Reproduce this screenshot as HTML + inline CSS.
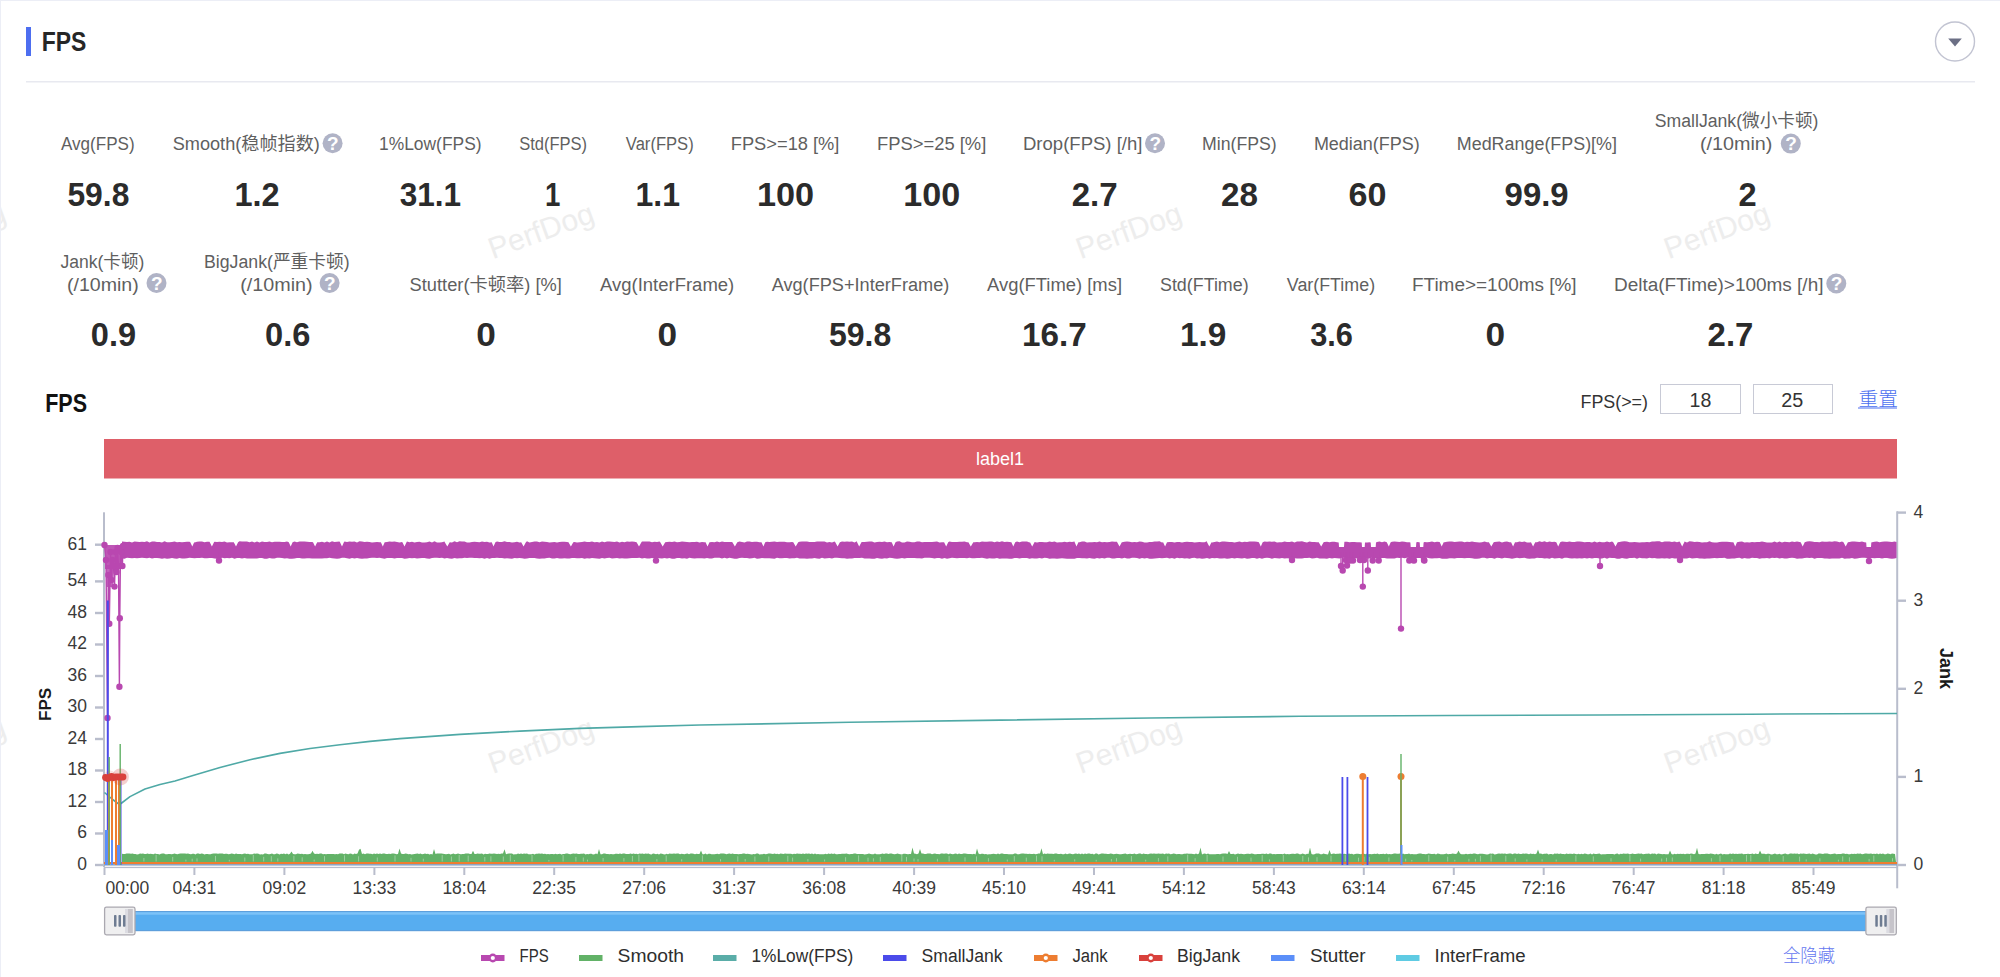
<!DOCTYPE html>
<html><head><meta charset="utf-8"><title>FPS</title>
<style>html,body{margin:0;padding:0;background:#fff;overflow:hidden;width:2000px;height:977px}svg{display:block}</style>
</head><body>
<svg width="2000" height="977" viewBox="0 0 2000 977" font-family="'Liberation Sans','Noto Sans CJK SC',sans-serif">
<rect x="0" y="0" width="2000" height="977" fill="#fff"/>
<text x="-46.6" y="240.9" font-size="30" fill="#ededed" text-anchor="middle" transform="rotate(-20 -46.6 231.9)">PerfDog</text>
<text x="541.3" y="240.9" font-size="30" fill="#ededed" text-anchor="middle" transform="rotate(-20 541.3 231.9)">PerfDog</text>
<text x="1129.2" y="240.9" font-size="30" fill="#ededed" text-anchor="middle" transform="rotate(-20 1129.2 231.9)">PerfDog</text>
<text x="1717.1" y="240.9" font-size="30" fill="#ededed" text-anchor="middle" transform="rotate(-20 1717.1 231.9)">PerfDog</text>
<text x="-46.6" y="755.7" font-size="30" fill="#ededed" text-anchor="middle" transform="rotate(-20 -46.6 746.7)">PerfDog</text>
<text x="541.3" y="755.7" font-size="30" fill="#ededed" text-anchor="middle" transform="rotate(-20 541.3 746.7)">PerfDog</text>
<text x="1129.2" y="755.7" font-size="30" fill="#ededed" text-anchor="middle" transform="rotate(-20 1129.2 746.7)">PerfDog</text>
<text x="1717.1" y="755.7" font-size="30" fill="#ededed" text-anchor="middle" transform="rotate(-20 1717.1 746.7)">PerfDog</text>
<rect x="0" y="0" width="2000" height="1" fill="#eceef6"/>
<rect x="0" y="0" width="1" height="977" fill="#eceef6"/>
<rect x="26" y="27" width="5" height="29" fill="#4d6ef0"/>
<text x="41.64" y="51.3" font-size="26.8" fill="#262626" font-weight="bold" textLength="44.60" lengthAdjust="spacingAndGlyphs" >FPS</text>
<rect x="26" y="81" width="1949" height="1.5" fill="#e8e9f0"/>
<circle cx="1955" cy="41.5" r="19.5" fill="#fff" stroke="#c2c4d2" stroke-width="1.4"/>
<path d="M1948.2 38.6 L1961.8 38.6 L1955 46.4 Z" fill="#6b6f85"/>
<text x="61.00" y="150" font-size="18" fill="#5f5f5f" font-weight="normal" textLength="73.64" lengthAdjust="spacingAndGlyphs" >Avg(FPS)</text>
<text x="172.70" y="150" font-size="18" fill="#5f5f5f" font-weight="normal" textLength="147.20" lengthAdjust="spacingAndGlyphs" >Smooth(稳帧指数)</text>
<text x="379.03" y="150" font-size="18" fill="#5f5f5f" font-weight="normal" textLength="102.53" lengthAdjust="spacingAndGlyphs" >1%Low(FPS)</text>
<text x="519.20" y="150" font-size="18" fill="#5f5f5f" font-weight="normal" textLength="67.91" lengthAdjust="spacingAndGlyphs" >Std(FPS)</text>
<text x="625.80" y="150" font-size="18" fill="#5f5f5f" font-weight="normal" textLength="67.92" lengthAdjust="spacingAndGlyphs" >Var(FPS)</text>
<text x="730.79" y="150" font-size="18" fill="#5f5f5f" font-weight="normal" textLength="108.63" lengthAdjust="spacingAndGlyphs" >FPS&gt;=18 [%]</text>
<text x="876.98" y="150" font-size="18" fill="#5f5f5f" font-weight="normal" textLength="109.34" lengthAdjust="spacingAndGlyphs" >FPS&gt;=25 [%]</text>
<text x="1022.97" y="150" font-size="18" fill="#5f5f5f" font-weight="normal" textLength="119.46" lengthAdjust="spacingAndGlyphs" >Drop(FPS) [/h]</text>
<text x="1202.02" y="150" font-size="18" fill="#5f5f5f" font-weight="normal" textLength="74.66" lengthAdjust="spacingAndGlyphs" >Min(FPS)</text>
<text x="1313.90" y="150" font-size="18" fill="#5f5f5f" font-weight="normal" textLength="105.89" lengthAdjust="spacingAndGlyphs" >Median(FPS)</text>
<text x="1456.81" y="150" font-size="18" fill="#5f5f5f" font-weight="normal" textLength="160.19" lengthAdjust="spacingAndGlyphs" >MedRange(FPS)[%]</text>
<text x="1654.80" y="127" font-size="18" fill="#5f5f5f" font-weight="normal" textLength="163.67" lengthAdjust="spacingAndGlyphs" >SmallJank(微小卡顿)</text>
<text x="1699.90" y="150" font-size="18" fill="#5f5f5f" font-weight="normal" textLength="72.49" lengthAdjust="spacingAndGlyphs" >(/10min)</text>
<text x="60.50" y="267.5" font-size="18" fill="#5f5f5f" font-weight="normal" textLength="83.77" lengthAdjust="spacingAndGlyphs" >Jank(卡顿)</text>
<text x="66.91" y="290.5" font-size="18" fill="#5f5f5f" font-weight="normal" textLength="71.87" lengthAdjust="spacingAndGlyphs" >(/10min)</text>
<text x="204.02" y="267.5" font-size="18" fill="#5f5f5f" font-weight="normal" textLength="145.56" lengthAdjust="spacingAndGlyphs" >BigJank(严重卡顿)</text>
<text x="240.20" y="290.5" font-size="18" fill="#5f5f5f" font-weight="normal" textLength="72.49" lengthAdjust="spacingAndGlyphs" >(/10min)</text>
<text x="409.60" y="290.5" font-size="18" fill="#5f5f5f" font-weight="normal" textLength="152.22" lengthAdjust="spacingAndGlyphs" >Stutter(卡顿率) [%]</text>
<text x="600.00" y="290.5" font-size="18" fill="#5f5f5f" font-weight="normal" textLength="134.22" lengthAdjust="spacingAndGlyphs" >Avg(InterFrame)</text>
<text x="771.70" y="290.5" font-size="18" fill="#5f5f5f" font-weight="normal" textLength="177.60" lengthAdjust="spacingAndGlyphs" >Avg(FPS+InterFrame)</text>
<text x="987.00" y="290.5" font-size="18" fill="#5f5f5f" font-weight="normal" textLength="135.02" lengthAdjust="spacingAndGlyphs" >Avg(FTime) [ms]</text>
<text x="1160.00" y="290.5" font-size="18" fill="#5f5f5f" font-weight="normal" textLength="88.59" lengthAdjust="spacingAndGlyphs" >Std(FTime)</text>
<text x="1286.80" y="290.5" font-size="18" fill="#5f5f5f" font-weight="normal" textLength="88.29" lengthAdjust="spacingAndGlyphs" >Var(FTime)</text>
<text x="1411.95" y="290.5" font-size="18" fill="#5f5f5f" font-weight="normal" textLength="164.71" lengthAdjust="spacingAndGlyphs" >FTime&gt;=100ms [%]</text>
<text x="1613.95" y="290.5" font-size="18" fill="#5f5f5f" font-weight="normal" textLength="209.51" lengthAdjust="spacingAndGlyphs" >Delta(FTime)&gt;100ms [/h]</text>
<text x="67.44" y="206.3" font-size="33" fill="#2b2b2b" font-weight="bold" textLength="61.90" lengthAdjust="spacingAndGlyphs" >59.8</text>
<text x="234.43" y="206.3" font-size="33" fill="#2b2b2b" font-weight="bold" textLength="45.22" lengthAdjust="spacingAndGlyphs" >1.2</text>
<text x="399.70" y="206.3" font-size="33" fill="#2b2b2b" font-weight="bold" textLength="61.44" lengthAdjust="spacingAndGlyphs" >31.1</text>
<text x="544.93" y="206.3" font-size="33" fill="#2b2b2b" font-weight="bold" textLength="15.37" lengthAdjust="spacingAndGlyphs" >1</text>
<text x="635.46" y="206.3" font-size="33" fill="#2b2b2b" font-weight="bold" textLength="44.48" lengthAdjust="spacingAndGlyphs" >1.1</text>
<text x="756.92" y="206.3" font-size="33" fill="#2b2b2b" font-weight="bold" textLength="57.18" lengthAdjust="spacingAndGlyphs" >100</text>
<text x="903.33" y="206.3" font-size="33" fill="#2b2b2b" font-weight="bold" textLength="56.97" lengthAdjust="spacingAndGlyphs" >100</text>
<text x="1071.70" y="206.3" font-size="33" fill="#2b2b2b" font-weight="bold" textLength="45.96" lengthAdjust="spacingAndGlyphs" >2.7</text>
<text x="1220.99" y="206.3" font-size="33" fill="#2b2b2b" font-weight="bold" textLength="36.96" lengthAdjust="spacingAndGlyphs" >28</text>
<text x="1348.47" y="206.3" font-size="33" fill="#2b2b2b" font-weight="bold" textLength="37.93" lengthAdjust="spacingAndGlyphs" >60</text>
<text x="1504.60" y="206.3" font-size="33" fill="#2b2b2b" font-weight="bold" textLength="64.05" lengthAdjust="spacingAndGlyphs" >99.9</text>
<text x="1738.61" y="206.3" font-size="33" fill="#2b2b2b" font-weight="bold" textLength="18.14" lengthAdjust="spacingAndGlyphs" >2</text>
<text x="90.81" y="346" font-size="33" fill="#2b2b2b" font-weight="bold" textLength="45.23" lengthAdjust="spacingAndGlyphs" >0.9</text>
<text x="265.01" y="346" font-size="33" fill="#2b2b2b" font-weight="bold" textLength="45.34" lengthAdjust="spacingAndGlyphs" >0.6</text>
<text x="476.23" y="346" font-size="33" fill="#2b2b2b" font-weight="bold" textLength="19.61" lengthAdjust="spacingAndGlyphs" >0</text>
<text x="657.53" y="346" font-size="33" fill="#2b2b2b" font-weight="bold" textLength="19.61" lengthAdjust="spacingAndGlyphs" >0</text>
<text x="829.03" y="346" font-size="33" fill="#2b2b2b" font-weight="bold" textLength="62.31" lengthAdjust="spacingAndGlyphs" >59.8</text>
<text x="1021.99" y="346" font-size="33" fill="#2b2b2b" font-weight="bold" textLength="64.68" lengthAdjust="spacingAndGlyphs" >16.7</text>
<text x="1179.98" y="346" font-size="33" fill="#2b2b2b" font-weight="bold" textLength="46.38" lengthAdjust="spacingAndGlyphs" >1.9</text>
<text x="1310.20" y="346" font-size="33" fill="#2b2b2b" font-weight="bold" textLength="42.73" lengthAdjust="spacingAndGlyphs" >3.6</text>
<text x="1485.43" y="346" font-size="33" fill="#2b2b2b" font-weight="bold" textLength="19.61" lengthAdjust="spacingAndGlyphs" >0</text>
<text x="1707.60" y="346" font-size="33" fill="#2b2b2b" font-weight="bold" textLength="45.75" lengthAdjust="spacingAndGlyphs" >2.7</text>
<circle cx="332.6" cy="143.3" r="10" fill="#b0b3c6"/>
<text x="332.8" y="149.9" font-size="19" fill="#fff" text-anchor="middle" font-weight="bold">?</text>
<circle cx="1155" cy="143.3" r="10" fill="#b0b3c6"/>
<text x="1155.2" y="149.9" font-size="19" fill="#fff" text-anchor="middle" font-weight="bold">?</text>
<circle cx="1790.8" cy="143.6" r="10" fill="#b0b3c6"/>
<text x="1791.0" y="150.2" font-size="19" fill="#fff" text-anchor="middle" font-weight="bold">?</text>
<circle cx="156.5" cy="283" r="10" fill="#b0b3c6"/>
<text x="156.7" y="289.6" font-size="19" fill="#fff" text-anchor="middle" font-weight="bold">?</text>
<circle cx="329.6" cy="283" r="10" fill="#b0b3c6"/>
<text x="329.8" y="289.6" font-size="19" fill="#fff" text-anchor="middle" font-weight="bold">?</text>
<circle cx="1836.3" cy="283.5" r="10" fill="#b0b3c6"/>
<text x="1836.5" y="290.1" font-size="19" fill="#fff" text-anchor="middle" font-weight="bold">?</text>
<text x="45.16" y="412" font-size="25.5" fill="#111" font-weight="bold" textLength="41.85" lengthAdjust="spacingAndGlyphs" >FPS</text>
<text x="1580.51" y="407.5" font-size="18" fill="#333" font-weight="normal" textLength="67.48" lengthAdjust="spacingAndGlyphs" >FPS(&gt;=)</text>
<rect x="1660.5" y="384.5" width="80" height="29" fill="#fff" stroke="#c8cad6" stroke-width="1"/>
<rect x="1753.5" y="384.5" width="79" height="29" fill="#fff" stroke="#c8cad6" stroke-width="1"/>
<text x="1689.52" y="407" font-size="20" fill="#333" font-weight="normal" textLength="21.80" lengthAdjust="spacingAndGlyphs" >18</text>
<text x="1781.31" y="407" font-size="20" fill="#333" font-weight="normal" textLength="22.01" lengthAdjust="spacingAndGlyphs" >25</text>
<text x="1858.50" y="405.5" font-size="19" fill="#4b6ff0" font-weight="300" textLength="39.54" lengthAdjust="spacingAndGlyphs" >重置</text>
<rect x="1858" y="407.5" width="39" height="1" fill="#4b6ff0"/>
<rect x="104" y="439" width="1793" height="39.5" fill="#de5f69"/>
<text x="1000" y="465" font-size="18" fill="#fff" text-anchor="middle" font-weight="normal" >label1</text>
<rect x="103" y="512.3" width="2" height="355" fill="#b9bdcc"/>
<rect x="95" y="863.8" width="9" height="2.4" fill="#b9bdcc"/>
<text x="87" y="869.9" font-size="17.5" fill="#3a3a3a" text-anchor="end" font-weight="normal" >0</text>
<rect x="95" y="832.3" width="9" height="2.4" fill="#b9bdcc"/>
<text x="87" y="838.4" font-size="17.5" fill="#3a3a3a" text-anchor="end" font-weight="normal" >6</text>
<rect x="95" y="800.8" width="9" height="2.4" fill="#b9bdcc"/>
<text x="87" y="806.9" font-size="17.5" fill="#3a3a3a" text-anchor="end" font-weight="normal" >12</text>
<rect x="95" y="769.3" width="9" height="2.4" fill="#b9bdcc"/>
<text x="87" y="775.4" font-size="17.5" fill="#3a3a3a" text-anchor="end" font-weight="normal" >18</text>
<rect x="95" y="737.8" width="9" height="2.4" fill="#b9bdcc"/>
<text x="87" y="743.9" font-size="17.5" fill="#3a3a3a" text-anchor="end" font-weight="normal" >24</text>
<rect x="95" y="706.3" width="9" height="2.4" fill="#b9bdcc"/>
<text x="87" y="712.4" font-size="17.5" fill="#3a3a3a" text-anchor="end" font-weight="normal" >30</text>
<rect x="95" y="674.8" width="9" height="2.4" fill="#b9bdcc"/>
<text x="87" y="680.9" font-size="17.5" fill="#3a3a3a" text-anchor="end" font-weight="normal" >36</text>
<rect x="95" y="643.3" width="9" height="2.4" fill="#b9bdcc"/>
<text x="87" y="649.4" font-size="17.5" fill="#3a3a3a" text-anchor="end" font-weight="normal" >42</text>
<rect x="95" y="611.8" width="9" height="2.4" fill="#b9bdcc"/>
<text x="87" y="617.9" font-size="17.5" fill="#3a3a3a" text-anchor="end" font-weight="normal" >48</text>
<rect x="95" y="580.2" width="9" height="2.4" fill="#b9bdcc"/>
<text x="87" y="586.3" font-size="17.5" fill="#3a3a3a" text-anchor="end" font-weight="normal" >54</text>
<rect x="95" y="543.5" width="9" height="2.4" fill="#b9bdcc"/>
<text x="87" y="549.6" font-size="17.5" fill="#3a3a3a" text-anchor="end" font-weight="normal" >61</text>
<rect x="1896.2" y="511.3" width="2" height="377" fill="#b9bdcc"/>
<rect x="1897" y="863.8" width="9" height="2.4" fill="#b9bdcc"/>
<text x="1913.5" y="869.9" font-size="17.5" fill="#3a3a3a" text-anchor="start" font-weight="normal" >0</text>
<rect x="1897" y="775.7" width="9" height="2.4" fill="#b9bdcc"/>
<text x="1913.5" y="781.8" font-size="17.5" fill="#3a3a3a" text-anchor="start" font-weight="normal" >1</text>
<rect x="1897" y="687.6" width="9" height="2.4" fill="#b9bdcc"/>
<text x="1913.5" y="693.7" font-size="17.5" fill="#3a3a3a" text-anchor="start" font-weight="normal" >2</text>
<rect x="1897" y="599.5" width="9" height="2.4" fill="#b9bdcc"/>
<text x="1913.5" y="605.6" font-size="17.5" fill="#3a3a3a" text-anchor="start" font-weight="normal" >3</text>
<rect x="1897" y="511.4" width="9" height="2.4" fill="#b9bdcc"/>
<text x="1913.5" y="517.5" font-size="17.5" fill="#3a3a3a" text-anchor="start" font-weight="normal" >4</text>
<text x="0" y="0" font-size="17.2" font-weight="bold" fill="#1a1a1a" text-anchor="middle" transform="translate(51.3 704.4) rotate(-90)">FPS</text>
<text x="0" y="0" font-size="18" font-weight="bold" fill="#1a1a1a" text-anchor="middle" transform="translate(1940 668.6) rotate(90)">Jank</text>
<rect x="104" y="866.8" width="1793" height="1.3" fill="#b9bdcc"/>
<rect x="103.5" y="868" width="2" height="7" fill="#b9bdcc"/>
<text x="105.5" y="894" font-size="17.5" fill="#3a3a3a" text-anchor="start" font-weight="normal" >00:00</text>
<rect x="193.4" y="868" width="2" height="7" fill="#b9bdcc"/>
<text x="194.4" y="894" font-size="17.5" fill="#3a3a3a" text-anchor="middle" font-weight="normal" >04:31</text>
<rect x="283.4" y="868" width="2" height="7" fill="#b9bdcc"/>
<text x="284.4" y="894" font-size="17.5" fill="#3a3a3a" text-anchor="middle" font-weight="normal" >09:02</text>
<rect x="373.4" y="868" width="2" height="7" fill="#b9bdcc"/>
<text x="374.4" y="894" font-size="17.5" fill="#3a3a3a" text-anchor="middle" font-weight="normal" >13:33</text>
<rect x="463.3" y="868" width="2" height="7" fill="#b9bdcc"/>
<text x="464.3" y="894" font-size="17.5" fill="#3a3a3a" text-anchor="middle" font-weight="normal" >18:04</text>
<rect x="553.2" y="868" width="2" height="7" fill="#b9bdcc"/>
<text x="554.2" y="894" font-size="17.5" fill="#3a3a3a" text-anchor="middle" font-weight="normal" >22:35</text>
<rect x="643.2" y="868" width="2" height="7" fill="#b9bdcc"/>
<text x="644.2" y="894" font-size="17.5" fill="#3a3a3a" text-anchor="middle" font-weight="normal" >27:06</text>
<rect x="733.1" y="868" width="2" height="7" fill="#b9bdcc"/>
<text x="734.1" y="894" font-size="17.5" fill="#3a3a3a" text-anchor="middle" font-weight="normal" >31:37</text>
<rect x="823.1" y="868" width="2" height="7" fill="#b9bdcc"/>
<text x="824.1" y="894" font-size="17.5" fill="#3a3a3a" text-anchor="middle" font-weight="normal" >36:08</text>
<rect x="913.1" y="868" width="2" height="7" fill="#b9bdcc"/>
<text x="914.1" y="894" font-size="17.5" fill="#3a3a3a" text-anchor="middle" font-weight="normal" >40:39</text>
<rect x="1003.0" y="868" width="2" height="7" fill="#b9bdcc"/>
<text x="1004.0" y="894" font-size="17.5" fill="#3a3a3a" text-anchor="middle" font-weight="normal" >45:10</text>
<rect x="1093.0" y="868" width="2" height="7" fill="#b9bdcc"/>
<text x="1094.0" y="894" font-size="17.5" fill="#3a3a3a" text-anchor="middle" font-weight="normal" >49:41</text>
<rect x="1182.9" y="868" width="2" height="7" fill="#b9bdcc"/>
<text x="1183.9" y="894" font-size="17.5" fill="#3a3a3a" text-anchor="middle" font-weight="normal" >54:12</text>
<rect x="1272.9" y="868" width="2" height="7" fill="#b9bdcc"/>
<text x="1273.9" y="894" font-size="17.5" fill="#3a3a3a" text-anchor="middle" font-weight="normal" >58:43</text>
<rect x="1362.8" y="868" width="2" height="7" fill="#b9bdcc"/>
<text x="1363.8" y="894" font-size="17.5" fill="#3a3a3a" text-anchor="middle" font-weight="normal" >63:14</text>
<rect x="1452.8" y="868" width="2" height="7" fill="#b9bdcc"/>
<text x="1453.8" y="894" font-size="17.5" fill="#3a3a3a" text-anchor="middle" font-weight="normal" >67:45</text>
<rect x="1542.7" y="868" width="2" height="7" fill="#b9bdcc"/>
<text x="1543.7" y="894" font-size="17.5" fill="#3a3a3a" text-anchor="middle" font-weight="normal" >72:16</text>
<rect x="1632.7" y="868" width="2" height="7" fill="#b9bdcc"/>
<text x="1633.7" y="894" font-size="17.5" fill="#3a3a3a" text-anchor="middle" font-weight="normal" >76:47</text>
<rect x="1722.6" y="868" width="2" height="7" fill="#b9bdcc"/>
<text x="1723.6" y="894" font-size="17.5" fill="#3a3a3a" text-anchor="middle" font-weight="normal" >81:18</text>
<rect x="1812.5" y="868" width="2" height="7" fill="#b9bdcc"/>
<text x="1813.5" y="894" font-size="17.5" fill="#3a3a3a" text-anchor="middle" font-weight="normal" >85:49</text>
<path d="M122 862 L122.0 853.7 L123.5 854.1 L125.0 853.9 L126.5 853.5 L128.0 853.4 L129.5 853.5 L131.0 853.8 L132.5 853.5 L134.0 854.0 L135.5 854.0 L137.0 854.4 L138.5 854.3 L140.0 853.5 L141.5 853.7 L143.0 853.6 L144.5 854.0 L146.0 853.9 L147.5 853.5 L149.0 854.1 L150.5 853.7 L152.0 853.9 L153.5 854.2 L155.0 853.6 L156.5 853.9 L158.0 854.1 L159.5 854.4 L161.0 853.8 L162.5 853.6 L164.0 853.4 L165.5 854.2 L167.0 854.3 L168.5 854.1 L170.0 854.0 L171.5 854.2 L173.0 853.9 L174.5 853.5 L176.0 854.0 L177.5 854.2 L179.0 853.8 L180.5 853.4 L182.0 853.6 L183.5 853.5 L185.0 853.5 L186.5 853.8 L188.0 853.5 L189.5 853.9 L191.0 854.2 L192.5 853.7 L194.0 853.8 L195.5 854.4 L197.0 853.6 L198.5 853.6 L200.0 854.0 L201.5 853.4 L203.0 853.8 L204.5 854.4 L206.0 853.9 L207.5 854.1 L209.0 854.3 L210.5 854.3 L212.0 853.8 L213.5 853.5 L215.0 853.5 L216.5 853.6 L218.0 853.7 L219.5 853.4 L221.0 853.5 L222.5 853.4 L224.0 854.0 L225.5 853.7 L227.0 853.8 L228.5 854.2 L230.0 853.9 L231.5 853.5 L233.0 853.7 L234.5 854.2 L236.0 853.4 L237.5 853.9 L239.0 853.9 L240.5 853.9 L242.0 854.3 L243.5 853.7 L245.0 853.6 L246.5 853.9 L248.0 853.7 L249.5 854.2 L251.0 854.3 L252.5 854.2 L254.0 853.6 L255.5 853.8 L257.0 853.4 L258.5 853.7 L260.0 854.4 L261.5 854.3 L263.0 854.4 L264.5 853.6 L266.0 853.6 L267.5 854.0 L269.0 854.2 L270.5 854.1 L272.0 853.5 L273.5 854.3 L275.0 854.2 L276.5 853.6 L278.0 853.7 L279.5 854.4 L281.0 853.8 L282.5 854.1 L284.0 853.5 L285.5 854.3 L287.0 853.5 L288.5 854.4 L290.0 853.8 L291.5 851.4 L293.0 854.0 L294.5 854.3 L296.0 854.3 L297.5 853.6 L299.0 853.7 L300.5 854.0 L302.0 853.8 L303.5 854.3 L305.0 853.9 L306.5 854.3 L308.0 854.3 L309.5 853.9 L311.0 853.4 L312.5 850.7 L314.0 853.6 L315.5 854.1 L317.0 853.7 L318.5 854.0 L320.0 853.5 L321.5 853.6 L323.0 854.2 L324.5 854.0 L326.0 854.3 L327.5 854.0 L329.0 853.9 L330.5 853.9 L332.0 853.9 L333.5 854.1 L335.0 854.3 L336.5 854.0 L338.0 854.2 L339.5 853.5 L341.0 853.5 L342.5 853.5 L344.0 854.2 L345.5 853.6 L347.0 854.1 L348.5 854.3 L350.0 853.6 L351.5 853.8 L353.0 854.4 L354.5 853.6 L356.0 853.9 L357.5 853.6 L359.0 849.7 L360.5 848.8 L362.0 854.0 L363.5 853.5 L365.0 854.2 L366.5 853.5 L368.0 853.4 L369.5 853.7 L371.0 853.8 L372.5 854.2 L374.0 853.5 L375.5 854.0 L377.0 853.5 L378.5 854.1 L380.0 853.5 L381.5 854.0 L383.0 853.5 L384.5 853.5 L386.0 853.9 L387.5 854.0 L389.0 853.7 L390.5 853.9 L392.0 853.5 L393.5 853.5 L395.0 853.7 L396.5 854.2 L398.0 853.9 L399.5 848.5 L401.0 853.4 L402.5 854.0 L404.0 853.9 L405.5 853.5 L407.0 853.8 L408.5 854.2 L410.0 853.9 L411.5 854.4 L413.0 854.2 L414.5 854.0 L416.0 853.7 L417.5 853.5 L419.0 854.1 L420.5 853.6 L422.0 854.2 L423.5 854.1 L425.0 853.6 L426.5 853.9 L428.0 853.8 L429.5 854.4 L431.0 853.9 L432.5 854.4 L434.0 849.0 L435.5 853.9 L437.0 853.6 L438.5 853.4 L440.0 853.5 L441.5 853.4 L443.0 853.7 L444.5 854.0 L446.0 854.2 L447.5 854.1 L449.0 853.8 L450.5 854.4 L452.0 854.1 L453.5 853.4 L455.0 854.3 L456.5 854.1 L458.0 853.5 L459.5 853.9 L461.0 854.2 L462.5 854.0 L464.0 854.1 L465.5 853.6 L467.0 853.5 L468.5 853.5 L470.0 854.0 L471.5 854.0 L473.0 850.7 L474.5 854.1 L476.0 853.9 L477.5 853.5 L479.0 853.7 L480.5 853.7 L482.0 853.6 L483.5 854.4 L485.0 853.8 L486.5 854.1 L488.0 854.0 L489.5 853.5 L491.0 853.7 L492.5 853.7 L494.0 853.4 L495.5 853.7 L497.0 854.1 L498.5 853.7 L500.0 853.9 L501.5 853.5 L503.0 853.6 L504.5 849.3 L506.0 854.2 L507.5 853.8 L509.0 853.6 L510.5 853.6 L512.0 853.5 L513.5 854.4 L515.0 854.2 L516.5 854.3 L518.0 853.6 L519.5 853.9 L521.0 853.4 L522.5 853.9 L524.0 853.5 L525.5 853.7 L527.0 853.4 L528.5 854.2 L530.0 854.3 L531.5 854.3 L533.0 853.8 L534.5 854.4 L536.0 853.8 L537.5 853.7 L539.0 853.5 L540.5 853.7 L542.0 853.6 L543.5 853.9 L545.0 853.8 L546.5 854.3 L548.0 854.0 L549.5 854.3 L551.0 854.1 L552.5 854.1 L554.0 854.2 L555.5 853.7 L557.0 854.3 L558.5 853.9 L560.0 853.7 L561.5 854.4 L563.0 854.1 L564.5 854.0 L566.0 853.6 L567.5 853.6 L569.0 853.9 L570.5 854.3 L572.0 853.8 L573.5 853.6 L575.0 853.7 L576.5 853.6 L578.0 854.0 L579.5 854.1 L581.0 853.8 L582.5 853.8 L584.0 853.5 L585.5 854.4 L587.0 853.9 L588.5 854.3 L590.0 853.7 L591.5 853.8 L593.0 854.4 L594.5 854.3 L596.0 853.4 L597.5 854.3 L599.0 849.1 L600.5 854.3 L602.0 854.3 L603.5 853.6 L605.0 853.6 L606.5 854.1 L608.0 854.1 L609.5 854.2 L611.0 854.0 L612.5 854.2 L614.0 854.3 L615.5 853.7 L617.0 853.7 L618.5 854.1 L620.0 853.5 L621.5 854.0 L623.0 853.6 L624.5 853.4 L626.0 853.9 L627.5 854.0 L629.0 853.9 L630.5 853.6 L632.0 854.1 L633.5 853.4 L635.0 854.1 L636.5 853.7 L638.0 854.3 L639.5 853.4 L641.0 853.8 L642.5 853.6 L644.0 854.1 L645.5 853.6 L647.0 853.7 L648.5 853.6 L650.0 854.2 L651.5 854.4 L653.0 853.6 L654.5 853.8 L656.0 854.3 L657.5 853.8 L659.0 854.4 L660.5 853.5 L662.0 853.8 L663.5 854.3 L665.0 854.4 L666.5 853.7 L668.0 854.3 L669.5 853.4 L671.0 853.8 L672.5 853.7 L674.0 853.4 L675.5 853.8 L677.0 853.5 L678.5 853.6 L680.0 854.2 L681.5 853.8 L683.0 853.9 L684.5 854.3 L686.0 853.8 L687.5 853.4 L689.0 854.2 L690.5 853.4 L692.0 853.5 L693.5 853.7 L695.0 854.3 L696.5 853.7 L698.0 854.0 L699.5 854.1 L701.0 850.5 L702.5 854.3 L704.0 854.3 L705.5 853.6 L707.0 854.4 L708.5 853.8 L710.0 853.8 L711.5 854.3 L713.0 854.2 L714.5 854.2 L716.0 854.0 L717.5 853.7 L719.0 854.2 L720.5 853.6 L722.0 853.6 L723.5 853.4 L725.0 853.7 L726.5 854.3 L728.0 853.7 L729.5 853.5 L731.0 854.1 L732.5 853.6 L734.0 854.0 L735.5 854.1 L737.0 854.1 L738.5 854.2 L740.0 854.0 L741.5 854.1 L743.0 853.6 L744.5 853.6 L746.0 854.0 L747.5 853.8 L749.0 853.9 L750.5 854.2 L752.0 854.4 L753.5 853.9 L755.0 854.2 L756.5 853.4 L758.0 853.5 L759.5 854.4 L761.0 854.3 L762.5 854.3 L764.0 853.7 L765.5 854.3 L767.0 854.0 L768.5 853.6 L770.0 853.5 L771.5 853.7 L773.0 854.1 L774.5 853.4 L776.0 854.1 L777.5 853.7 L779.0 854.2 L780.5 853.5 L782.0 853.8 L783.5 854.0 L785.0 853.6 L786.5 853.8 L788.0 853.7 L789.5 853.7 L791.0 853.8 L792.5 854.3 L794.0 853.8 L795.5 854.1 L797.0 853.4 L798.5 853.8 L800.0 853.8 L801.5 853.9 L803.0 853.4 L804.5 854.0 L806.0 853.5 L807.5 853.8 L809.0 853.5 L810.5 853.9 L812.0 853.5 L813.5 854.2 L815.0 853.6 L816.5 854.3 L818.0 853.9 L819.5 854.3 L821.0 854.3 L822.5 854.2 L824.0 854.2 L825.5 853.8 L827.0 854.2 L828.5 853.6 L830.0 853.9 L831.5 853.5 L833.0 854.1 L834.5 853.4 L836.0 854.2 L837.5 854.2 L839.0 854.0 L840.5 854.0 L842.0 853.8 L843.5 853.8 L845.0 853.8 L846.5 853.4 L848.0 853.9 L849.5 854.2 L851.0 853.9 L852.5 853.9 L854.0 853.5 L855.5 853.5 L857.0 853.9 L858.5 854.0 L860.0 854.1 L861.5 853.9 L863.0 853.9 L864.5 854.4 L866.0 854.3 L867.5 854.1 L869.0 853.6 L870.5 853.9 L872.0 854.3 L873.5 854.2 L875.0 853.5 L876.5 854.2 L878.0 854.3 L879.5 854.2 L881.0 853.9 L882.5 853.6 L884.0 853.9 L885.5 853.4 L887.0 853.6 L888.5 854.1 L890.0 853.6 L891.5 853.5 L893.0 854.0 L894.5 854.3 L896.0 854.0 L897.5 853.5 L899.0 854.0 L900.5 854.2 L902.0 854.4 L903.5 853.8 L905.0 853.8 L906.5 854.1 L908.0 854.2 L909.5 854.0 L911.0 854.0 L912.5 847.6 L914.0 853.5 L915.5 853.8 L917.0 854.3 L918.5 853.6 L920.0 848.9 L921.5 853.5 L923.0 853.6 L924.5 854.0 L926.0 854.0 L927.5 853.5 L929.0 853.6 L930.5 853.5 L932.0 854.3 L933.5 853.8 L935.0 853.4 L936.5 854.0 L938.0 854.0 L939.5 854.3 L941.0 853.6 L942.5 853.4 L944.0 853.8 L945.5 853.5 L947.0 853.4 L948.5 854.3 L950.0 853.6 L951.5 853.9 L953.0 854.2 L954.5 853.7 L956.0 853.4 L957.5 854.2 L959.0 853.4 L960.5 854.1 L962.0 854.1 L963.5 853.6 L965.0 853.6 L966.5 853.7 L968.0 854.1 L969.5 854.1 L971.0 854.0 L972.5 854.2 L974.0 853.7 L975.5 854.4 L977.0 848.5 L978.5 853.6 L980.0 854.3 L981.5 853.7 L983.0 853.7 L984.5 854.3 L986.0 854.1 L987.5 854.4 L989.0 854.2 L990.5 854.3 L992.0 854.1 L993.5 853.7 L995.0 854.0 L996.5 854.3 L998.0 853.4 L999.5 854.3 L1001.0 853.5 L1002.5 853.4 L1004.0 854.0 L1005.5 854.1 L1007.0 854.0 L1008.5 854.2 L1010.0 854.3 L1011.5 854.3 L1013.0 854.3 L1014.5 853.6 L1016.0 853.4 L1017.5 854.2 L1019.0 854.2 L1020.5 853.7 L1022.0 853.5 L1023.5 853.6 L1025.0 853.8 L1026.5 853.7 L1028.0 854.1 L1029.5 853.7 L1031.0 853.9 L1032.5 854.0 L1034.0 853.8 L1035.5 854.2 L1037.0 854.1 L1038.5 853.6 L1040.0 853.5 L1041.5 848.3 L1043.0 854.2 L1044.5 853.4 L1046.0 853.9 L1047.5 853.6 L1049.0 853.7 L1050.5 853.7 L1052.0 853.7 L1053.5 854.1 L1055.0 853.5 L1056.5 853.5 L1058.0 854.1 L1059.5 854.0 L1061.0 853.8 L1062.5 854.3 L1064.0 854.3 L1065.5 853.6 L1067.0 854.3 L1068.5 853.8 L1070.0 853.6 L1071.5 853.9 L1073.0 854.2 L1074.5 853.7 L1076.0 853.6 L1077.5 854.1 L1079.0 853.6 L1080.5 854.2 L1082.0 853.5 L1083.5 854.3 L1085.0 853.6 L1086.5 854.1 L1088.0 853.6 L1089.5 853.6 L1091.0 853.9 L1092.5 853.7 L1094.0 854.4 L1095.5 853.5 L1097.0 853.5 L1098.5 854.4 L1100.0 854.1 L1101.5 853.6 L1103.0 853.5 L1104.5 853.8 L1106.0 853.8 L1107.5 854.1 L1109.0 854.0 L1110.5 853.5 L1112.0 853.8 L1113.5 854.3 L1115.0 854.0 L1116.5 853.8 L1118.0 854.1 L1119.5 854.2 L1121.0 854.3 L1122.5 854.0 L1124.0 853.7 L1125.5 853.5 L1127.0 854.2 L1128.5 854.0 L1130.0 853.8 L1131.5 854.0 L1133.0 854.1 L1134.5 853.6 L1136.0 854.2 L1137.5 853.9 L1139.0 853.4 L1140.5 853.6 L1142.0 854.3 L1143.5 853.5 L1145.0 853.9 L1146.5 853.9 L1148.0 854.2 L1149.5 853.8 L1151.0 853.6 L1152.5 853.8 L1154.0 853.5 L1155.5 853.8 L1157.0 853.7 L1158.5 853.4 L1160.0 853.8 L1161.5 853.8 L1163.0 853.6 L1164.5 854.3 L1166.0 853.6 L1167.5 853.8 L1169.0 853.5 L1170.5 854.2 L1172.0 853.9 L1173.5 853.6 L1175.0 853.8 L1176.5 854.2 L1178.0 853.9 L1179.5 853.9 L1181.0 854.2 L1182.5 854.3 L1184.0 853.8 L1185.5 853.8 L1187.0 853.4 L1188.5 853.7 L1190.0 853.7 L1191.5 853.8 L1193.0 854.1 L1194.5 854.3 L1196.0 853.5 L1197.5 854.3 L1199.0 853.5 L1200.5 847.5 L1202.0 854.4 L1203.5 853.7 L1205.0 853.5 L1206.5 854.2 L1208.0 853.6 L1209.5 854.2 L1211.0 854.3 L1212.5 854.2 L1214.0 854.3 L1215.5 854.2 L1217.0 854.1 L1218.5 854.1 L1220.0 854.3 L1221.5 853.7 L1223.0 853.5 L1224.5 853.5 L1226.0 853.5 L1227.5 853.9 L1229.0 850.9 L1230.5 853.9 L1232.0 854.1 L1233.5 853.8 L1235.0 854.4 L1236.5 854.0 L1238.0 853.4 L1239.5 854.1 L1241.0 853.7 L1242.5 853.9 L1244.0 854.3 L1245.5 854.1 L1247.0 853.7 L1248.5 853.8 L1250.0 853.9 L1251.5 853.6 L1253.0 853.8 L1254.5 854.2 L1256.0 854.2 L1257.5 853.9 L1259.0 853.9 L1260.5 854.1 L1262.0 853.7 L1263.5 853.7 L1265.0 854.0 L1266.5 853.4 L1268.0 854.3 L1269.5 853.4 L1271.0 853.4 L1272.5 854.3 L1274.0 854.1 L1275.5 854.3 L1277.0 854.0 L1278.5 854.1 L1280.0 854.1 L1281.5 854.1 L1283.0 854.2 L1284.5 853.6 L1286.0 854.2 L1287.5 854.1 L1289.0 854.2 L1290.5 854.0 L1292.0 853.7 L1293.5 853.7 L1295.0 854.0 L1296.5 853.5 L1298.0 853.4 L1299.5 854.2 L1301.0 854.3 L1302.5 853.4 L1304.0 854.0 L1305.5 854.4 L1307.0 853.8 L1308.5 854.0 L1310.0 847.5 L1311.5 854.1 L1313.0 854.4 L1314.5 854.3 L1316.0 853.4 L1317.5 853.6 L1319.0 853.6 L1320.5 854.2 L1322.0 854.3 L1323.5 853.5 L1325.0 854.1 L1326.5 854.3 L1328.0 854.4 L1329.5 850.1 L1331.0 854.2 L1332.5 853.7 L1334.0 853.6 L1335.5 853.9 L1337.0 853.8 L1338.5 853.8 L1340.0 853.5 L1341.5 853.8 L1343.0 854.0 L1344.5 853.8 L1346.0 854.3 L1347.5 854.0 L1349.0 853.5 L1350.5 854.1 L1352.0 853.7 L1353.5 854.4 L1355.0 854.0 L1356.5 853.8 L1358.0 853.8 L1359.5 854.0 L1361.0 854.2 L1362.5 853.4 L1364.0 853.8 L1365.5 854.2 L1367.0 853.4 L1368.5 854.2 L1370.0 854.0 L1371.5 854.3 L1373.0 854.1 L1374.5 853.7 L1376.0 854.0 L1377.5 853.6 L1379.0 854.3 L1380.5 854.0 L1382.0 853.9 L1383.5 853.7 L1385.0 854.2 L1386.5 853.5 L1388.0 854.2 L1389.5 854.0 L1391.0 854.3 L1392.5 853.9 L1394.0 853.6 L1395.5 853.6 L1397.0 853.8 L1398.5 853.8 L1400.0 853.5 L1401.5 854.4 L1403.0 853.5 L1404.5 854.2 L1406.0 854.0 L1407.5 853.9 L1409.0 853.4 L1410.5 854.3 L1412.0 854.0 L1413.5 854.2 L1415.0 854.3 L1416.5 854.2 L1418.0 853.7 L1419.5 853.6 L1421.0 853.5 L1422.5 854.0 L1424.0 853.9 L1425.5 854.3 L1427.0 854.0 L1428.5 853.5 L1430.0 853.7 L1431.5 854.0 L1433.0 854.1 L1434.5 853.8 L1436.0 854.4 L1437.5 853.6 L1439.0 853.7 L1440.5 854.3 L1442.0 854.2 L1443.5 854.2 L1445.0 854.0 L1446.5 853.5 L1448.0 854.2 L1449.5 854.1 L1451.0 854.0 L1452.5 853.5 L1454.0 853.7 L1455.5 853.9 L1457.0 853.6 L1458.5 850.4 L1460.0 853.6 L1461.5 854.3 L1463.0 854.3 L1464.5 854.3 L1466.0 853.8 L1467.5 854.3 L1469.0 854.0 L1470.5 853.7 L1472.0 853.9 L1473.5 853.5 L1475.0 853.5 L1476.5 854.0 L1478.0 854.3 L1479.5 853.8 L1481.0 853.7 L1482.5 853.7 L1484.0 853.9 L1485.5 854.3 L1487.0 854.4 L1488.5 854.3 L1490.0 853.6 L1491.5 853.7 L1493.0 853.6 L1494.5 854.4 L1496.0 854.3 L1497.5 853.7 L1499.0 853.5 L1500.5 853.7 L1502.0 853.4 L1503.5 853.7 L1505.0 853.4 L1506.5 853.9 L1508.0 853.8 L1509.5 853.6 L1511.0 853.5 L1512.5 854.2 L1514.0 853.6 L1515.5 853.5 L1517.0 853.9 L1518.5 853.6 L1520.0 854.1 L1521.5 854.0 L1523.0 853.5 L1524.5 853.8 L1526.0 853.5 L1527.5 853.7 L1529.0 854.3 L1530.5 853.4 L1532.0 853.9 L1533.5 853.7 L1535.0 854.2 L1536.5 853.6 L1538.0 849.6 L1539.5 853.8 L1541.0 853.5 L1542.5 854.2 L1544.0 853.7 L1545.5 853.8 L1547.0 853.5 L1548.5 854.4 L1550.0 853.9 L1551.5 853.9 L1553.0 854.4 L1554.5 853.6 L1556.0 853.7 L1557.5 853.4 L1559.0 854.1 L1560.5 853.4 L1562.0 854.0 L1563.5 854.1 L1565.0 854.3 L1566.5 853.4 L1568.0 853.9 L1569.5 853.7 L1571.0 853.8 L1572.5 854.0 L1574.0 853.5 L1575.5 854.1 L1577.0 854.2 L1578.5 853.8 L1580.0 854.2 L1581.5 853.8 L1583.0 854.2 L1584.5 853.6 L1586.0 853.8 L1587.5 854.2 L1589.0 854.2 L1590.5 853.5 L1592.0 854.4 L1593.5 853.6 L1595.0 854.0 L1596.5 853.9 L1598.0 853.8 L1599.5 853.4 L1601.0 854.4 L1602.5 854.3 L1604.0 854.2 L1605.5 854.3 L1607.0 854.0 L1608.5 854.1 L1610.0 853.9 L1611.5 854.0 L1613.0 853.9 L1614.5 854.4 L1616.0 853.7 L1617.5 853.5 L1619.0 854.4 L1620.5 853.7 L1622.0 853.9 L1623.5 853.5 L1625.0 853.7 L1626.5 853.7 L1628.0 853.5 L1629.5 854.2 L1631.0 854.0 L1632.5 853.6 L1634.0 853.9 L1635.5 854.0 L1637.0 853.7 L1638.5 853.6 L1640.0 853.8 L1641.5 853.4 L1643.0 854.3 L1644.5 854.0 L1646.0 853.7 L1647.5 853.7 L1649.0 853.6 L1650.5 854.3 L1652.0 853.5 L1653.5 853.8 L1655.0 853.5 L1656.5 854.4 L1658.0 853.6 L1659.5 853.8 L1661.0 854.0 L1662.5 854.2 L1664.0 854.1 L1665.5 854.2 L1667.0 854.2 L1668.5 854.3 L1670.0 850.6 L1671.5 854.0 L1673.0 854.4 L1674.5 853.8 L1676.0 854.3 L1677.5 853.8 L1679.0 853.9 L1680.5 853.7 L1682.0 854.0 L1683.5 853.7 L1685.0 854.2 L1686.5 853.8 L1688.0 853.7 L1689.5 854.0 L1691.0 853.5 L1692.5 853.7 L1694.0 854.2 L1695.5 853.6 L1697.0 847.7 L1698.5 854.0 L1700.0 854.3 L1701.5 853.9 L1703.0 853.9 L1704.5 854.1 L1706.0 853.8 L1707.5 853.8 L1709.0 854.1 L1710.5 853.5 L1712.0 853.8 L1713.5 854.0 L1715.0 854.4 L1716.5 853.8 L1718.0 854.4 L1719.5 853.9 L1721.0 853.6 L1722.5 854.4 L1724.0 853.9 L1725.5 854.3 L1727.0 854.2 L1728.5 854.3 L1730.0 853.6 L1731.5 853.9 L1733.0 853.6 L1734.5 854.0 L1736.0 853.8 L1737.5 854.0 L1739.0 853.8 L1740.5 853.7 L1742.0 853.4 L1743.5 854.2 L1745.0 854.1 L1746.5 853.9 L1748.0 853.7 L1749.5 853.9 L1751.0 854.0 L1752.5 853.5 L1754.0 854.2 L1755.5 853.5 L1757.0 853.9 L1758.5 854.0 L1760.0 850.6 L1761.5 853.7 L1763.0 853.8 L1764.5 853.7 L1766.0 854.3 L1767.5 853.7 L1769.0 853.8 L1770.5 854.3 L1772.0 854.4 L1773.5 854.0 L1775.0 853.4 L1776.5 854.3 L1778.0 854.3 L1779.5 853.7 L1781.0 854.4 L1782.5 854.3 L1784.0 853.8 L1785.5 853.6 L1787.0 854.3 L1788.5 854.2 L1790.0 853.6 L1791.5 853.6 L1793.0 853.7 L1794.5 853.5 L1796.0 853.8 L1797.5 853.5 L1799.0 854.2 L1800.5 853.6 L1802.0 853.7 L1803.5 853.4 L1805.0 853.7 L1806.5 854.1 L1808.0 853.7 L1809.5 853.5 L1811.0 854.2 L1812.5 853.6 L1814.0 854.1 L1815.5 854.4 L1817.0 854.4 L1818.5 853.6 L1820.0 853.5 L1821.5 853.7 L1823.0 854.0 L1824.5 853.6 L1826.0 853.6 L1827.5 853.5 L1829.0 853.9 L1830.5 854.2 L1832.0 854.1 L1833.5 853.7 L1835.0 853.5 L1836.5 854.3 L1838.0 854.1 L1839.5 854.0 L1841.0 853.9 L1842.5 853.5 L1844.0 853.6 L1845.5 854.1 L1847.0 853.8 L1848.5 854.2 L1850.0 854.3 L1851.5 853.7 L1853.0 854.1 L1854.5 853.8 L1856.0 854.1 L1857.5 853.6 L1859.0 853.8 L1860.5 853.6 L1862.0 854.3 L1863.5 854.1 L1865.0 853.4 L1866.5 853.6 L1868.0 853.8 L1869.5 853.7 L1871.0 853.6 L1872.5 854.0 L1874.0 853.7 L1875.5 854.1 L1877.0 853.4 L1878.5 854.2 L1880.0 853.4 L1881.5 854.0 L1883.0 853.6 L1884.5 854.2 L1886.0 854.3 L1887.5 853.5 L1889.0 853.8 L1890.5 854.2 L1892.0 853.5 L1893.5 853.8 L1895.0 854.1 L1896 862 Z" fill="#62b267"/>
<path d="M143.9 858.0V861.5M156.1 854.8V861.5M172.7 856.9V861.5M185.9 859.6V861.5M192.2 858.7V861.5M197.0 858.4V861.5M215.5 855.9V861.5M229.3 859.8V861.5M244.8 857.5V861.5M253.3 854.8V861.5M263.7 856.8V861.5M271.3 856.2V861.5M277.8 858.4V861.5M293.9 855.8V861.5M302.2 857.3V861.5M314.2 859.6V861.5M324.5 856.1V861.5M344.5 855.3V861.5M358.6 856.3V861.5M377.3 857.5V861.5M395.0 855.4V861.5M411.0 857.8V861.5M423.3 858.7V861.5M442.2 855.1V861.5M451.4 856.5V861.5M459.2 854.8V861.5M468.2 855.6V861.5M484.8 857.0V861.5M490.9 856.3V861.5M503.3 856.5V861.5M510.3 854.9V861.5M514.5 860.0V861.5M532.0 855.0V861.5M548.9 859.9V861.5M563.1 855.1V861.5M575.9 856.9V861.5M583.3 857.5V861.5M587.5 859.6V861.5M603.1 858.0V861.5M623.9 858.1V861.5M632.4 855.9V861.5M638.9 854.7V861.5M656.9 859.1V861.5M666.2 855.5V861.5M681.7 859.2V861.5M702.4 855.4V861.5M720.5 859.1V861.5M737.8 856.3V861.5M745.2 859.0V861.5M754.9 856.5V861.5M768.8 856.5V861.5M787.8 855.8V861.5M792.6 857.6V861.5M807.9 859.0V861.5M824.6 859.5V861.5M845.6 857.2V861.5M858.6 855.4V861.5M868.0 857.7V861.5M873.4 858.3V861.5M880.3 856.9V861.5M901.8 855.0V861.5M906.5 856.9V861.5M914.0 858.5V861.5M918.0 859.1V861.5M937.4 858.8V861.5M949.1 856.1V861.5M965.0 857.3V861.5M976.5 856.4V861.5M988.4 858.2V861.5M1007.3 859.5V861.5M1014.3 856.1V861.5M1026.3 857.6V861.5M1036.5 855.6V861.5M1042.0 856.3V861.5M1054.3 859.8V861.5M1074.7 859.3V861.5M1096.2 859.8V861.5M1111.4 859.0V861.5M1116.5 858.2V861.5M1131.4 856.1V861.5M1145.7 859.7V861.5M1158.4 858.1V861.5M1167.8 856.4V861.5M1187.7 854.7V861.5M1195.1 858.2V861.5M1207.1 855.0V861.5M1223.0 856.5V861.5M1237.5 856.8V861.5M1251.0 857.6V861.5M1262.2 855.1V861.5M1269.4 859.4V861.5M1283.3 855.1V861.5M1302.8 855.9V861.5M1308.5 857.4V861.5M1317.0 857.2V861.5M1331.0 855.7V861.5M1345.3 855.1V861.5M1358.5 857.7V861.5M1364.0 856.7V861.5M1369.3 856.9V861.5M1388.9 857.5V861.5M1405.7 858.7V861.5M1411.8 859.9V861.5M1428.8 855.1V861.5M1447.7 856.7V861.5M1454.8 859.8V861.5M1468.9 858.8V861.5M1475.4 858.8V861.5M1480.4 855.8V861.5M1491.1 854.6V861.5M1505.8 855.7V861.5M1515.2 858.4V861.5M1526.9 859.4V861.5M1542.1 859.3V861.5M1556.2 859.5V861.5M1575.9 855.4V861.5M1593.3 856.4V861.5M1611.0 858.2V861.5M1629.9 855.2V861.5M1640.6 858.6V861.5M1661.7 858.5V861.5M1666.5 857.8V861.5M1672.3 857.5V861.5M1690.7 855.1V861.5M1711.4 858.2V861.5M1720.0 855.6V861.5M1732.0 859.1V861.5M1746.5 855.1V861.5M1750.8 855.1V861.5M1769.3 855.5V861.5M1783.2 856.1V861.5M1799.6 856.6V861.5M1806.2 859.3V861.5M1819.9 858.3V861.5M1838.4 859.7V861.5M1842.7 856.4V861.5M1849.4 857.3V861.5M1869.1 858.9V861.5M1873.8 855.5V861.5M1892.5 858.2V861.5M1903.5 857.1V861.5" stroke="#fff" stroke-width="0.9" opacity="0.4" fill="none"/>
<polyline points="104.5,792.5 112,799 118,803.5 121,803.5 130,796.6 145,789 160,784.5 175,781 193,775.6 220,767.5 250,759.7 280,753.4 310,748.5 340,744.7 370,741.4 400,738.6 460,734.4 520,731.1 580,728.4 640,726.6 700,725 850,722.3 1000,720.1 1150,718 1300,716.3 1450,715.5 1600,715 1750,714.2 1897,713.5" fill="none" stroke="#4fa9a6" stroke-width="1.6" stroke-linejoin="round"/>
<rect x="104" y="864" width="1793" height="1.6" fill="#8ea5c4"/>
<rect x="104" y="862" width="1793" height="2" fill="#ed7d31"/>
<path d="M122.0 541.5 L124.5 541.8 L127.0 542.0 L129.5 541.7 L132.0 542.4 L134.5 541.4 L137.0 541.7 L139.5 542.0 L142.0 541.7 L144.5 542.0 L147.0 541.3 L149.5 542.5 L152.0 541.5 L154.5 541.6 L157.0 541.9 L159.5 542.0 L162.0 542.4 L164.5 541.3 L167.0 542.2 L169.5 542.2 L172.0 542.1 L174.5 541.6 L177.0 542.3 L179.5 542.1 L182.0 542.2 L184.5 541.9 L187.0 541.7 L189.5 541.8 L190.3 542.3 L192.3 546.5 L194.2 542.3 L194.5 542.5 L197.0 541.7 L199.5 541.6 L202.0 541.5 L204.5 542.3 L207.0 541.8 L209.5 541.7 L209.8 542.3 L211.9 546.5 L214.0 542.3 L214.5 541.7 L217.0 542.0 L219.5 541.7 L222.0 542.0 L224.5 541.5 L227.0 542.5 L229.5 542.2 L232.0 542.3 L233.8 542.3 L236.0 546.5 L238.1 542.3 L239.5 541.3 L242.0 541.6 L244.5 541.6 L247.0 541.5 L249.5 542.3 L252.0 541.5 L254.5 542.5 L257.0 541.4 L259.5 542.4 L262.0 541.5 L264.5 541.9 L267.0 542.1 L269.5 541.6 L272.0 542.2 L274.5 541.8 L277.0 541.7 L279.5 541.8 L282.0 542.1 L284.5 541.9 L287.0 541.6 L288.8 542.3 L290.7 546.5 L292.6 542.3 L294.5 541.4 L297.0 542.2 L299.5 541.4 L302.0 541.5 L304.5 541.4 L307.0 541.8 L309.5 542.0 L312.0 542.1 L313.0 542.3 L315.1 546.5 L317.2 542.3 L319.5 542.2 L322.0 541.7 L324.5 542.5 L327.0 541.6 L329.5 542.4 L332.0 541.3 L334.5 542.1 L337.0 541.7 L339.5 541.6 L340.0 542.3 L342.0 546.5 L343.9 542.3 L344.5 541.5 L347.0 541.9 L349.5 541.5 L352.0 541.7 L354.5 541.5 L357.0 542.4 L359.5 541.3 L362.0 541.6 L364.5 541.9 L367.0 541.7 L369.5 541.9 L372.0 542.4 L374.5 542.2 L377.0 542.1 L379.5 542.3 L380.9 542.3 L382.8 546.5 L384.7 542.3 L387.0 542.1 L389.5 541.6 L392.0 541.8 L394.5 541.5 L397.0 542.1 L399.5 542.5 L402.0 542.0 L402.4 542.3 L404.5 546.5 L406.5 542.3 L407.0 541.6 L409.5 542.3 L412.0 541.7 L414.5 542.4 L417.0 542.1 L419.5 541.8 L422.0 542.4 L424.5 542.4 L427.0 542.2 L429.5 541.5 L432.0 542.5 L434.5 541.3 L437.0 542.5 L439.5 542.4 L442.0 542.2 L444.5 541.5 L444.8 542.3 L447.3 546.5 L449.7 542.3 L452.0 542.4 L454.5 541.3 L457.0 542.3 L459.5 541.3 L462.0 541.6 L464.5 541.4 L467.0 542.5 L469.5 542.4 L472.0 541.9 L474.5 541.8 L477.0 542.1 L479.5 542.2 L482.0 541.4 L484.5 541.9 L487.0 541.7 L489.5 542.5 L491.7 542.3 L493.5 546.5 L495.4 542.3 L497.0 541.4 L499.5 541.9 L502.0 542.0 L504.5 541.3 L507.0 542.1 L509.5 542.0 L512.0 542.5 L514.5 542.2 L517.0 541.7 L519.5 542.5 L521.2 542.3 L523.6 546.5 L525.9 542.3 L527.0 541.3 L529.5 542.4 L532.0 542.0 L534.5 541.6 L537.0 541.4 L539.5 542.2 L542.0 541.4 L544.5 541.7 L547.0 542.0 L549.5 542.5 L552.0 542.2 L554.5 541.9 L557.0 542.5 L559.5 542.1 L562.0 541.8 L564.5 541.8 L567.0 542.0 L568.5 542.3 L570.9 546.5 L573.3 542.3 L574.5 542.0 L577.0 542.4 L579.5 542.2 L582.0 541.9 L584.5 541.5 L587.0 541.9 L589.5 541.9 L592.0 541.6 L594.5 542.3 L597.0 542.1 L599.5 542.4 L602.0 541.4 L604.5 542.3 L607.0 541.4 L609.5 541.6 L612.0 541.7 L614.5 541.9 L617.0 541.4 L619.5 542.5 L622.0 541.8 L624.5 542.3 L627.0 541.5 L629.5 541.7 L632.0 541.6 L634.5 541.7 L636.6 542.3 L639.0 546.5 L641.4 542.3 L642.0 541.5 L644.5 541.6 L647.0 541.6 L649.5 541.4 L652.0 542.3 L654.5 541.8 L657.0 542.0 L659.5 541.4 L660.3 542.3 L662.7 546.5 L665.2 542.3 L667.0 542.1 L669.5 541.7 L672.0 542.0 L674.5 541.5 L677.0 542.2 L679.5 542.1 L682.0 541.4 L684.5 541.8 L687.0 541.9 L689.5 542.2 L692.0 542.0 L694.5 541.9 L697.0 541.8 L699.5 542.4 L702.0 541.9 L704.5 542.3 L705.6 542.3 L707.5 546.5 L709.5 542.3 L712.0 542.0 L714.5 542.2 L717.0 541.6 L719.5 542.3 L722.0 541.4 L724.5 542.0 L727.0 542.1 L729.5 541.9 L732.0 542.1 L732.4 542.3 L734.9 546.5 L737.3 542.3 L739.5 541.5 L742.0 541.9 L744.5 542.5 L747.0 541.6 L749.5 541.6 L752.0 542.0 L754.5 541.8 L757.0 541.7 L759.5 542.3 L761.5 542.3 L763.4 546.5 L765.2 542.3 L767.0 541.7 L769.5 541.9 L772.0 541.7 L774.5 541.5 L777.0 542.0 L779.5 541.7 L782.0 541.8 L784.5 541.7 L787.0 542.3 L789.5 542.2 L792.0 542.0 L793.3 542.3 L795.7 546.5 L798.2 542.3 L799.5 541.8 L802.0 541.4 L804.5 541.4 L807.0 541.5 L809.5 542.0 L812.0 541.9 L814.5 542.1 L817.0 541.6 L819.5 541.5 L822.0 541.5 L824.5 541.4 L827.0 542.4 L829.5 542.1 L832.0 542.4 L834.5 541.5 L835.3 542.3 L837.6 546.5 L839.9 542.3 L842.0 541.6 L844.5 541.7 L847.0 541.5 L849.5 541.7 L852.0 541.5 L854.5 542.5 L857.0 541.3 L857.1 542.3 L859.2 546.5 L861.4 542.3 L862.0 542.0 L864.5 541.9 L867.0 541.8 L869.5 541.4 L872.0 541.4 L874.5 542.5 L877.0 541.9 L879.5 541.7 L882.0 541.9 L884.5 541.4 L887.0 542.3 L889.5 541.9 L891.7 542.3 L893.6 546.5 L895.5 542.3 L897.0 541.6 L899.5 541.3 L902.0 542.5 L904.5 542.4 L907.0 541.4 L909.5 541.8 L912.0 542.2 L914.5 542.2 L917.0 541.4 L919.5 541.4 L922.0 542.2 L924.5 541.9 L927.0 541.9 L929.5 542.1 L932.0 542.0 L934.5 541.7 L937.0 541.5 L939.5 542.4 L942.0 542.3 L944.1 542.3 L946.2 546.5 L948.2 542.3 L949.5 541.4 L952.0 541.9 L954.5 541.9 L957.0 541.9 L959.5 541.7 L962.0 541.8 L964.5 541.5 L967.0 542.3 L968.4 542.3 L970.8 546.5 L973.3 542.3 L974.5 542.2 L977.0 542.1 L979.5 542.2 L982.0 541.6 L984.5 541.8 L987.0 541.7 L989.5 541.4 L992.0 541.6 L994.5 542.2 L997.0 541.4 L999.5 542.0 L1002.0 541.3 L1004.5 542.1 L1007.0 541.7 L1009.5 541.9 L1011.4 542.3 L1013.3 546.5 L1015.2 542.3 L1017.0 541.4 L1019.5 542.2 L1022.0 541.5 L1024.5 541.5 L1027.0 541.6 L1029.5 542.5 L1030.0 542.3 L1032.2 546.5 L1034.5 542.3 L1034.5 541.9 L1037.0 542.4 L1039.5 542.1 L1042.0 542.1 L1044.5 542.2 L1047.0 542.2 L1049.5 541.5 L1052.0 542.1 L1054.5 541.5 L1057.0 542.4 L1059.5 542.2 L1062.0 542.3 L1064.5 541.8 L1067.0 542.2 L1069.5 541.7 L1072.0 541.9 L1074.5 541.4 L1074.7 542.3 L1076.5 546.5 L1078.4 542.3 L1079.5 542.3 L1082.0 541.5 L1084.5 541.6 L1087.0 542.4 L1089.5 542.2 L1092.0 542.2 L1094.5 542.1 L1097.0 542.3 L1099.5 541.4 L1102.0 542.3 L1104.5 542.0 L1107.0 542.3 L1109.5 541.9 L1112.0 541.4 L1114.5 541.8 L1117.0 541.8 L1117.2 542.3 L1119.5 546.5 L1121.8 542.3 L1122.0 542.3 L1124.5 541.7 L1127.0 541.6 L1129.5 541.8 L1132.0 542.3 L1134.5 542.1 L1137.0 542.3 L1139.5 541.6 L1142.0 541.7 L1144.5 542.4 L1147.0 542.4 L1149.5 541.9 L1152.0 541.9 L1154.5 541.5 L1157.0 541.5 L1159.5 541.3 L1162.0 542.4 L1163.1 542.3 L1165.1 546.5 L1167.0 542.3 L1169.5 542.0 L1172.0 541.9 L1174.5 542.4 L1177.0 542.1 L1179.5 542.0 L1182.0 542.4 L1184.5 542.1 L1187.0 541.8 L1189.5 542.1 L1192.0 541.9 L1194.5 542.5 L1197.0 542.3 L1199.5 542.0 L1202.0 542.2 L1204.5 542.2 L1207.0 541.3 L1207.1 542.3 L1209.3 546.5 L1211.5 542.3 L1212.0 542.4 L1214.5 542.0 L1217.0 541.4 L1219.5 542.2 L1222.0 541.6 L1224.5 541.6 L1227.0 541.8 L1229.5 542.1 L1232.0 542.1 L1234.5 542.5 L1237.0 542.1 L1239.5 541.5 L1242.0 542.3 L1244.5 541.7 L1247.0 541.9 L1249.5 541.5 L1252.0 541.5 L1254.5 541.4 L1257.0 541.8 L1258.9 542.3 L1260.8 546.5 L1262.7 542.3 L1264.5 541.5 L1267.0 541.8 L1269.5 541.6 L1272.0 541.8 L1274.5 541.6 L1277.0 542.4 L1279.5 542.3 L1282.0 542.2 L1284.5 541.5 L1287.0 541.9 L1289.5 542.1 L1292.0 541.6 L1294.5 542.4 L1297.0 541.6 L1299.5 541.6 L1302.0 541.3 L1304.5 542.0 L1307.0 542.4 L1309.5 541.6 L1312.0 542.0 L1314.5 542.1 L1317.0 542.3 L1318.7 542.3 L1321.2 546.5 L1323.6 542.3 L1324.5 542.1 L1327.0 541.8 L1329.5 542.2 L1332.0 541.8 L1334.5 541.7 L1337.0 542.3 L1338.7 542.5 L1339.0 547.0 L1339.5 547.0 L1342.0 547.0 L1344.0 547.0 L1344.3 542.5 L1344.5 541.7 L1347.0 541.8 L1349.5 542.3 L1352.0 542.0 L1354.5 542.0 L1357.0 542.3 L1359.5 542.3 L1361.7 542.5 L1362.0 547.0 L1362.0 547.0 L1364.5 547.0 L1364.7 547.0 L1365.0 542.5 L1367.0 542.4 L1369.5 542.3 L1370.7 542.5 L1371.0 547.0 L1372.0 547.0 L1374.5 547.0 L1375.7 547.0 L1376.0 542.5 L1377.0 542.0 L1379.5 541.4 L1382.0 542.3 L1384.5 541.6 L1386.8 542.3 L1388.8 546.5 L1390.7 542.3 L1392.0 541.7 L1394.5 541.4 L1397.0 541.7 L1399.5 542.1 L1402.0 541.6 L1404.5 541.8 L1407.0 542.3 L1409.5 542.3 L1410.4 542.5 L1410.7 547.0 L1412.0 547.0 L1414.5 547.0 L1416.0 547.0 L1416.3 542.5 L1417.0 542.0 L1419.5 542.3 L1419.7 542.5 L1420.0 547.0 L1422.0 547.0 L1423.3 547.0 L1423.6 542.5 L1424.5 541.9 L1427.0 542.2 L1429.5 541.9 L1432.0 541.4 L1434.5 542.2 L1437.0 541.8 L1439.5 542.0 L1439.8 542.3 L1441.7 546.5 L1443.7 542.3 L1444.5 542.3 L1447.0 541.7 L1449.5 541.4 L1452.0 541.5 L1454.5 542.1 L1457.0 541.8 L1459.5 541.5 L1462.0 541.6 L1464.5 542.2 L1467.0 541.8 L1469.5 542.1 L1472.0 541.6 L1474.5 542.1 L1477.0 542.2 L1479.5 542.4 L1482.0 542.2 L1484.5 541.5 L1487.0 542.3 L1488.9 542.3 L1491.3 546.5 L1493.7 542.3 L1494.5 542.1 L1497.0 541.7 L1499.5 541.5 L1502.0 542.4 L1504.5 541.8 L1507.0 541.4 L1509.5 542.2 L1511.1 542.3 L1513.1 546.5 L1515.0 542.3 L1517.0 542.3 L1519.5 541.4 L1522.0 541.9 L1524.5 541.6 L1527.0 542.4 L1529.5 542.4 L1531.0 542.3 L1533.1 546.5 L1535.2 542.3 L1537.0 542.3 L1539.5 541.3 L1542.0 542.0 L1544.5 541.3 L1547.0 542.2 L1549.5 541.4 L1552.0 541.9 L1554.5 541.7 L1556.3 542.3 L1558.2 546.5 L1560.2 542.3 L1562.0 541.6 L1564.5 541.8 L1567.0 542.0 L1569.5 541.5 L1572.0 542.0 L1574.5 542.1 L1577.0 541.4 L1579.5 541.4 L1582.0 541.8 L1584.5 542.2 L1587.0 542.1 L1589.5 541.9 L1592.0 542.4 L1594.5 541.4 L1597.0 542.5 L1599.5 541.8 L1602.0 542.3 L1604.5 542.2 L1607.0 541.4 L1609.5 542.3 L1612.0 541.4 L1613.2 542.3 L1615.5 546.5 L1617.7 542.3 L1619.5 542.1 L1622.0 541.6 L1624.5 541.3 L1627.0 541.4 L1629.5 542.2 L1632.0 542.3 L1634.5 541.9 L1637.0 542.2 L1639.5 542.4 L1642.0 542.3 L1644.5 542.3 L1647.0 542.0 L1649.5 542.3 L1652.0 541.4 L1654.5 541.6 L1657.0 541.3 L1659.5 541.3 L1662.0 542.3 L1664.5 541.4 L1667.0 541.5 L1669.5 541.4 L1672.0 542.0 L1674.5 541.4 L1677.0 542.3 L1679.5 541.4 L1680.1 542.3 L1682.2 546.5 L1684.3 542.3 L1684.5 541.5 L1687.0 542.5 L1689.5 541.3 L1692.0 541.4 L1694.5 542.0 L1697.0 541.8 L1699.5 542.0 L1702.0 542.4 L1704.5 542.3 L1707.0 542.3 L1709.5 541.3 L1712.0 542.3 L1714.5 542.4 L1717.0 542.4 L1719.5 542.1 L1722.0 541.7 L1724.5 541.7 L1727.0 541.8 L1729.5 542.1 L1732.0 542.2 L1733.4 542.3 L1735.2 546.5 L1737.0 542.3 L1739.5 541.8 L1742.0 541.6 L1744.5 542.4 L1747.0 542.2 L1749.5 542.4 L1752.0 541.9 L1754.5 542.3 L1757.0 542.1 L1759.5 541.9 L1762.0 541.5 L1764.5 542.1 L1767.0 542.4 L1769.5 542.4 L1772.0 542.5 L1774.5 541.6 L1777.0 542.4 L1779.5 541.6 L1782.0 542.5 L1784.5 541.8 L1787.0 542.1 L1789.5 542.2 L1792.0 541.6 L1794.5 542.1 L1797.0 541.6 L1799.5 542.1 L1800.7 542.3 L1802.7 546.5 L1804.7 542.3 L1807.0 541.4 L1809.5 541.3 L1812.0 541.5 L1814.5 541.9 L1817.0 542.1 L1819.5 542.2 L1822.0 541.4 L1824.5 541.8 L1827.0 541.8 L1829.5 541.4 L1832.0 541.7 L1834.5 541.3 L1837.0 541.6 L1839.5 542.3 L1842.0 541.6 L1843.5 542.3 L1845.7 546.5 L1847.9 542.3 L1849.5 542.0 L1852.0 541.5 L1854.5 541.4 L1857.0 541.8 L1859.5 542.0 L1862.0 541.4 L1864.5 542.3 L1866.2 542.5 L1866.5 547.0 L1867.0 547.0 L1869.5 547.0 L1871.0 547.0 L1871.3 542.5 L1872.0 542.2 L1874.5 541.7 L1877.0 541.4 L1879.5 542.3 L1882.0 541.8 L1884.5 541.6 L1887.0 541.6 L1889.5 541.7 L1892.0 541.9 L1894.5 541.4 L1896.5 542.0 L1896.5 558.0 L1894.5 558.4 L1892.0 558.7 L1889.5 558.4 L1887.0 558.1 L1884.5 557.9 L1882.0 558.5 L1879.5 558.0 L1877.0 558.0 L1874.5 558.3 L1872.0 558.0 L1869.5 557.9 L1867.0 558.1 L1864.5 557.8 L1862.0 557.7 L1859.5 557.9 L1857.0 558.4 L1854.5 558.8 L1852.0 557.9 L1849.5 558.4 L1847.0 558.4 L1844.5 558.7 L1842.0 557.7 L1839.5 558.4 L1837.0 558.6 L1834.5 558.6 L1832.0 558.6 L1829.5 558.7 L1827.0 558.5 L1824.5 558.5 L1822.0 558.0 L1819.5 557.9 L1817.0 558.0 L1814.5 558.8 L1812.0 557.8 L1809.5 558.1 L1807.0 557.8 L1804.5 558.0 L1802.0 558.4 L1799.5 558.4 L1797.0 558.8 L1794.5 557.9 L1792.0 557.7 L1789.5 558.0 L1787.0 558.5 L1784.5 558.5 L1782.0 557.9 L1779.5 558.5 L1777.0 557.7 L1774.5 558.0 L1772.0 557.8 L1769.5 558.5 L1767.0 558.1 L1764.5 558.3 L1762.0 558.3 L1759.5 558.8 L1757.0 558.1 L1754.5 558.0 L1752.0 557.8 L1749.5 558.6 L1747.0 558.6 L1744.5 558.1 L1742.0 558.7 L1739.5 557.7 L1737.0 558.0 L1734.5 558.5 L1732.0 558.6 L1729.5 558.7 L1727.0 558.8 L1724.5 557.8 L1722.0 558.1 L1719.5 558.0 L1717.0 558.2 L1714.5 557.9 L1712.0 558.2 L1709.5 558.4 L1707.0 558.5 L1704.5 558.7 L1702.0 558.5 L1699.5 558.4 L1697.0 558.1 L1694.5 558.3 L1692.0 558.5 L1689.5 557.8 L1687.0 558.5 L1684.5 558.4 L1682.0 558.5 L1679.5 558.1 L1677.0 558.6 L1674.5 558.5 L1672.0 558.1 L1669.5 558.8 L1667.0 558.2 L1664.5 558.4 L1662.0 558.2 L1659.5 558.6 L1657.0 558.5 L1654.5 558.1 L1652.0 558.3 L1649.5 557.8 L1647.0 558.4 L1644.5 558.3 L1642.0 558.3 L1639.5 557.7 L1637.0 558.7 L1634.5 557.8 L1632.0 557.9 L1629.5 557.9 L1627.0 558.8 L1624.5 558.5 L1622.0 557.9 L1619.5 558.7 L1617.0 558.7 L1614.5 557.9 L1612.0 558.0 L1609.5 557.7 L1607.0 558.8 L1604.5 557.7 L1602.0 558.4 L1599.5 558.6 L1597.0 558.0 L1594.5 558.0 L1592.0 558.4 L1589.5 557.9 L1587.0 558.5 L1584.5 558.0 L1582.0 558.4 L1579.5 558.2 L1577.0 558.5 L1574.5 558.2 L1572.0 558.4 L1569.5 558.2 L1567.0 557.8 L1564.5 557.8 L1562.0 558.7 L1559.5 557.9 L1557.0 558.2 L1554.5 558.4 L1552.0 557.8 L1549.5 558.7 L1547.0 558.2 L1544.5 558.6 L1542.0 558.1 L1539.5 557.9 L1537.0 557.8 L1534.5 558.6 L1532.0 558.5 L1529.5 558.8 L1527.0 558.5 L1524.5 557.7 L1522.0 557.9 L1519.5 558.3 L1517.0 557.8 L1514.5 558.2 L1512.0 558.7 L1509.5 558.2 L1507.0 557.9 L1504.5 557.8 L1502.0 558.6 L1499.5 558.1 L1497.0 557.7 L1494.5 558.8 L1492.0 557.9 L1489.5 558.0 L1487.0 558.5 L1484.5 557.7 L1482.0 557.8 L1479.5 558.5 L1477.0 558.7 L1474.5 558.8 L1472.0 558.3 L1469.5 557.9 L1467.0 557.9 L1464.5 558.3 L1462.0 557.9 L1459.5 558.1 L1457.0 558.1 L1454.5 558.5 L1452.0 558.2 L1449.5 558.2 L1447.0 558.8 L1444.5 558.8 L1442.0 558.8 L1439.5 557.9 L1437.0 558.3 L1434.5 558.3 L1432.0 558.4 L1429.5 558.2 L1427.0 557.7 L1424.5 557.7 L1422.0 558.6 L1419.5 557.9 L1417.0 557.9 L1414.5 558.1 L1412.0 558.4 L1409.5 557.8 L1407.0 557.7 L1404.5 558.3 L1402.0 557.8 L1399.5 557.9 L1397.0 557.7 L1394.5 558.6 L1392.0 558.5 L1389.5 558.6 L1387.0 558.4 L1384.5 557.9 L1382.0 558.0 L1379.5 558.4 L1377.0 558.0 L1374.5 558.5 L1372.0 557.8 L1369.5 558.4 L1367.0 558.5 L1364.5 558.7 L1362.0 558.5 L1359.5 557.9 L1357.0 558.6 L1354.5 558.0 L1352.0 558.1 L1349.5 558.4 L1347.0 558.3 L1344.5 557.8 L1342.0 557.8 L1339.5 558.4 L1337.0 558.3 L1334.5 557.9 L1332.0 558.6 L1329.5 558.1 L1327.0 558.7 L1324.5 558.6 L1322.0 558.4 L1319.5 558.4 L1317.0 557.8 L1314.5 558.2 L1312.0 558.5 L1309.5 557.8 L1307.0 558.0 L1304.5 558.1 L1302.0 558.6 L1299.5 558.5 L1297.0 558.4 L1294.5 558.3 L1292.0 558.1 L1289.5 558.5 L1287.0 558.3 L1284.5 558.5 L1282.0 558.0 L1279.5 558.4 L1277.0 558.2 L1274.5 557.9 L1272.0 558.8 L1269.5 558.1 L1267.0 557.8 L1264.5 558.1 L1262.0 558.7 L1259.5 557.9 L1257.0 558.8 L1254.5 558.0 L1252.0 558.0 L1249.5 558.5 L1247.0 558.7 L1244.5 557.9 L1242.0 558.6 L1239.5 558.3 L1237.0 558.0 L1234.5 558.5 L1232.0 558.1 L1229.5 558.6 L1227.0 558.8 L1224.5 558.3 L1222.0 558.5 L1219.5 558.4 L1217.0 558.1 L1214.5 558.3 L1212.0 557.9 L1209.5 558.7 L1207.0 558.1 L1204.5 558.5 L1202.0 558.7 L1199.5 558.2 L1197.0 558.5 L1194.5 557.8 L1192.0 558.1 L1189.5 558.7 L1187.0 558.3 L1184.5 558.4 L1182.0 558.1 L1179.5 558.2 L1177.0 557.8 L1174.5 558.7 L1172.0 558.1 L1169.5 558.6 L1167.0 557.8 L1164.5 558.0 L1162.0 558.2 L1159.5 557.9 L1157.0 558.3 L1154.5 558.6 L1152.0 558.8 L1149.5 558.8 L1147.0 558.1 L1144.5 558.4 L1142.0 557.9 L1139.5 558.8 L1137.0 557.9 L1134.5 557.7 L1132.0 557.8 L1129.5 558.4 L1127.0 558.5 L1124.5 557.8 L1122.0 558.4 L1119.5 558.1 L1117.0 558.1 L1114.5 558.4 L1112.0 558.6 L1109.5 557.7 L1107.0 557.7 L1104.5 558.6 L1102.0 558.1 L1099.5 558.4 L1097.0 558.1 L1094.5 558.7 L1092.0 558.6 L1089.5 558.1 L1087.0 558.5 L1084.5 558.2 L1082.0 558.2 L1079.5 558.0 L1077.0 558.0 L1074.5 558.8 L1072.0 558.7 L1069.5 558.8 L1067.0 558.7 L1064.5 558.6 L1062.0 558.3 L1059.5 558.6 L1057.0 558.7 L1054.5 558.6 L1052.0 558.5 L1049.5 558.8 L1047.0 558.1 L1044.5 557.8 L1042.0 558.6 L1039.5 557.9 L1037.0 558.5 L1034.5 558.6 L1032.0 558.2 L1029.5 558.8 L1027.0 558.1 L1024.5 557.9 L1022.0 558.1 L1019.5 558.4 L1017.0 558.0 L1014.5 558.1 L1012.0 558.7 L1009.5 558.7 L1007.0 558.6 L1004.5 558.6 L1002.0 558.4 L999.5 558.8 L997.0 558.0 L994.5 558.5 L992.0 558.4 L989.5 558.3 L987.0 558.7 L984.5 558.3 L982.0 557.7 L979.5 557.9 L977.0 558.0 L974.5 558.3 L972.0 558.2 L969.5 557.7 L967.0 558.3 L964.5 558.0 L962.0 557.9 L959.5 557.9 L957.0 558.3 L954.5 557.9 L952.0 557.8 L949.5 558.2 L947.0 558.7 L944.5 557.9 L942.0 558.7 L939.5 558.1 L937.0 557.9 L934.5 558.4 L932.0 558.1 L929.5 557.8 L927.0 557.8 L924.5 557.7 L922.0 558.4 L919.5 558.3 L917.0 558.3 L914.5 558.0 L912.0 557.9 L909.5 558.0 L907.0 558.1 L904.5 558.4 L902.0 558.1 L899.5 558.4 L897.0 558.7 L894.5 558.6 L892.0 558.0 L889.5 557.8 L887.0 558.4 L884.5 558.2 L882.0 558.7 L879.5 558.5 L877.0 558.0 L874.5 558.7 L872.0 558.7 L869.5 558.6 L867.0 558.4 L864.5 558.5 L862.0 557.8 L859.5 557.9 L857.0 558.1 L854.5 558.1 L852.0 558.6 L849.5 558.6 L847.0 558.7 L844.5 558.3 L842.0 558.3 L839.5 558.0 L837.0 557.7 L834.5 557.8 L832.0 558.5 L829.5 558.0 L827.0 558.2 L824.5 558.6 L822.0 557.8 L819.5 558.7 L817.0 558.6 L814.5 558.0 L812.0 558.4 L809.5 558.6 L807.0 558.7 L804.5 558.4 L802.0 558.6 L799.5 558.4 L797.0 557.8 L794.5 558.2 L792.0 558.2 L789.5 558.6 L787.0 558.0 L784.5 558.0 L782.0 558.3 L779.5 558.3 L777.0 557.8 L774.5 558.7 L772.0 558.6 L769.5 558.3 L767.0 558.2 L764.5 558.3 L762.0 557.9 L759.5 558.6 L757.0 558.7 L754.5 557.8 L752.0 558.3 L749.5 558.6 L747.0 558.0 L744.5 558.0 L742.0 557.7 L739.5 558.1 L737.0 558.7 L734.5 558.8 L732.0 558.2 L729.5 557.8 L727.0 558.5 L724.5 557.8 L722.0 558.5 L719.5 557.8 L717.0 557.8 L714.5 557.8 L712.0 558.5 L709.5 558.4 L707.0 558.1 L704.5 558.4 L702.0 558.3 L699.5 558.2 L697.0 558.2 L694.5 558.6 L692.0 558.2 L689.5 557.7 L687.0 558.7 L684.5 558.3 L682.0 558.5 L679.5 558.1 L677.0 558.1 L674.5 558.8 L672.0 558.7 L669.5 558.1 L667.0 558.6 L664.5 558.1 L662.0 558.5 L659.5 558.2 L657.0 558.1 L654.5 558.6 L652.0 557.9 L649.5 558.4 L647.0 558.6 L644.5 558.1 L642.0 558.5 L639.5 557.8 L637.0 557.9 L634.5 558.1 L632.0 558.1 L629.5 558.3 L627.0 558.4 L624.5 558.5 L622.0 558.2 L619.5 558.5 L617.0 558.1 L614.5 558.2 L612.0 558.6 L609.5 557.8 L607.0 557.9 L604.5 558.6 L602.0 558.1 L599.5 558.7 L597.0 558.6 L594.5 558.2 L592.0 557.9 L589.5 558.6 L587.0 558.3 L584.5 558.7 L582.0 557.9 L579.5 558.3 L577.0 558.2 L574.5 558.0 L572.0 557.9 L569.5 558.4 L567.0 558.4 L564.5 558.3 L562.0 558.5 L559.5 558.5 L557.0 558.0 L554.5 558.4 L552.0 558.6 L549.5 557.7 L547.0 558.0 L544.5 558.4 L542.0 558.5 L539.5 558.7 L537.0 558.6 L534.5 557.9 L532.0 558.1 L529.5 558.0 L527.0 558.4 L524.5 558.8 L522.0 558.2 L519.5 558.1 L517.0 558.2 L514.5 558.1 L512.0 558.7 L509.5 558.5 L507.0 558.3 L504.5 558.5 L502.0 558.1 L499.5 558.1 L497.0 557.7 L494.5 558.0 L492.0 558.0 L489.5 558.7 L487.0 557.9 L484.5 558.7 L482.0 558.1 L479.5 558.3 L477.0 557.9 L474.5 557.9 L472.0 557.8 L469.5 557.8 L467.0 558.0 L464.5 557.7 L462.0 558.2 L459.5 558.3 L457.0 558.5 L454.5 558.0 L452.0 558.8 L449.5 558.5 L447.0 558.1 L444.5 558.5 L442.0 557.8 L439.5 557.9 L437.0 557.7 L434.5 557.8 L432.0 558.0 L429.5 558.7 L427.0 558.6 L424.5 558.1 L422.0 557.9 L419.5 558.3 L417.0 558.4 L414.5 557.9 L412.0 558.2 L409.5 558.0 L407.0 558.5 L404.5 558.7 L402.0 557.9 L399.5 557.9 L397.0 558.0 L394.5 558.5 L392.0 558.0 L389.5 558.0 L387.0 557.9 L384.5 558.7 L382.0 558.2 L379.5 557.8 L377.0 558.1 L374.5 557.8 L372.0 557.8 L369.5 558.1 L367.0 558.6 L364.5 558.4 L362.0 558.8 L359.5 558.6 L357.0 557.9 L354.5 558.5 L352.0 557.9 L349.5 558.7 L347.0 558.3 L344.5 557.8 L342.0 557.7 L339.5 558.5 L337.0 558.8 L334.5 558.6 L332.0 558.2 L329.5 557.8 L327.0 558.3 L324.5 558.2 L322.0 558.5 L319.5 558.6 L317.0 558.5 L314.5 558.5 L312.0 558.4 L309.5 558.3 L307.0 558.3 L304.5 558.6 L302.0 558.5 L299.5 557.9 L297.0 558.1 L294.5 558.4 L292.0 558.8 L289.5 558.7 L287.0 558.2 L284.5 558.4 L282.0 558.1 L279.5 557.8 L277.0 557.8 L274.5 558.4 L272.0 558.4 L269.5 558.1 L267.0 558.7 L264.5 558.7 L262.0 557.9 L259.5 558.1 L257.0 558.6 L254.5 558.4 L252.0 558.5 L249.5 558.4 L247.0 558.4 L244.5 558.1 L242.0 558.5 L239.5 557.9 L237.0 558.0 L234.5 558.7 L232.0 557.8 L229.5 558.2 L227.0 558.1 L224.5 558.3 L222.0 557.8 L219.5 558.7 L217.0 558.7 L214.5 558.5 L212.0 558.0 L209.5 557.9 L207.0 558.3 L204.5 558.2 L202.0 557.7 L199.5 558.1 L197.0 558.0 L194.5 558.2 L192.0 558.1 L189.5 557.8 L187.0 558.3 L184.5 558.4 L182.0 558.5 L179.5 558.0 L177.0 558.7 L174.5 558.6 L172.0 558.1 L169.5 558.4 L167.0 558.7 L164.5 558.3 L162.0 558.8 L159.5 558.3 L157.0 558.0 L154.5 558.0 L152.0 558.4 L149.5 557.7 L147.0 558.2 L144.5 558.1 L142.0 557.7 L139.5 558.1 L137.0 558.2 L134.5 557.9 L132.0 558.3 L129.5 557.9 L127.0 557.8 L124.5 558.7 L122.0 558.6 Z" fill="#b848b0"/>
<line x1="1353" y1="552" x2="1353" y2="560.5" stroke="#b848b0" stroke-width="1.4"/>
<circle cx="1353" cy="560.5" r="3.2" fill="#b848b0"/>
<line x1="1372.7" y1="552" x2="1372.7" y2="560.5" stroke="#b848b0" stroke-width="1.4"/>
<circle cx="1372.7" cy="560.5" r="3.2" fill="#b848b0"/>
<line x1="1378.7" y1="552" x2="1378.7" y2="560.5" stroke="#b848b0" stroke-width="1.4"/>
<circle cx="1378.7" cy="560.5" r="3.2" fill="#b848b0"/>
<line x1="1409.3" y1="552" x2="1409.3" y2="560.5" stroke="#b848b0" stroke-width="1.4"/>
<circle cx="1409.3" cy="560.5" r="3.2" fill="#b848b0"/>
<line x1="1414" y1="552" x2="1414" y2="560.5" stroke="#b848b0" stroke-width="1.4"/>
<circle cx="1414" cy="560.5" r="3.2" fill="#b848b0"/>
<line x1="1424.3" y1="552" x2="1424.3" y2="560.5" stroke="#b848b0" stroke-width="1.4"/>
<circle cx="1424.3" cy="560.5" r="3.2" fill="#b848b0"/>
<line x1="1346" y1="552" x2="1346" y2="560" stroke="#b848b0" stroke-width="1.4"/>
<circle cx="1346" cy="560" r="3.2" fill="#b848b0"/>
<line x1="1350" y1="552" x2="1350" y2="560.5" stroke="#b848b0" stroke-width="1.4"/>
<circle cx="1350" cy="560.5" r="3.2" fill="#b848b0"/>
<line x1="1360" y1="552" x2="1360" y2="560" stroke="#b848b0" stroke-width="1.4"/>
<circle cx="1360" cy="560" r="3.2" fill="#b848b0"/>
<line x1="1364" y1="552" x2="1364" y2="560" stroke="#b848b0" stroke-width="1.4"/>
<circle cx="1364" cy="560" r="3.2" fill="#b848b0"/>
<line x1="219" y1="552" x2="219" y2="560.5" stroke="#b848b0" stroke-width="1.4"/>
<circle cx="219" cy="560.5" r="3.2" fill="#b848b0"/>
<line x1="656" y1="552" x2="656" y2="560.6" stroke="#b848b0" stroke-width="1.4"/>
<circle cx="656" cy="560.6" r="3.2" fill="#b848b0"/>
<line x1="1292" y1="552" x2="1292" y2="560" stroke="#b848b0" stroke-width="1.4"/>
<circle cx="1292" cy="560" r="3.2" fill="#b848b0"/>
<line x1="1341" y1="552" x2="1341" y2="566" stroke="#b848b0" stroke-width="1.4"/>
<circle cx="1341" cy="566" r="3.2" fill="#b848b0"/>
<line x1="1342.7" y1="552" x2="1342.7" y2="570.5" stroke="#b848b0" stroke-width="1.4"/>
<circle cx="1342.7" cy="570.5" r="3.2" fill="#b848b0"/>
<line x1="1347" y1="552" x2="1347" y2="565.5" stroke="#b848b0" stroke-width="1.4"/>
<circle cx="1347" cy="565.5" r="3.2" fill="#b848b0"/>
<line x1="1362.8" y1="552" x2="1362.8" y2="586.6" stroke="#b848b0" stroke-width="1.4"/>
<circle cx="1362.8" cy="586.6" r="3.2" fill="#b848b0"/>
<line x1="1367.8" y1="552" x2="1367.8" y2="570.5" stroke="#b848b0" stroke-width="1.4"/>
<circle cx="1367.8" cy="570.5" r="3.2" fill="#b848b0"/>
<line x1="1401" y1="552" x2="1401" y2="628.6" stroke="#b848b0" stroke-width="1.4"/>
<circle cx="1401" cy="628.6" r="3.2" fill="#b848b0"/>
<line x1="1412.6" y1="552" x2="1412.6" y2="560" stroke="#b848b0" stroke-width="1.4"/>
<circle cx="1412.6" cy="560" r="3.2" fill="#b848b0"/>
<line x1="1424" y1="552" x2="1424" y2="560" stroke="#b848b0" stroke-width="1.4"/>
<circle cx="1424" cy="560" r="3.2" fill="#b848b0"/>
<line x1="1600" y1="552" x2="1600" y2="566" stroke="#b848b0" stroke-width="1.4"/>
<circle cx="1600" cy="566" r="3.2" fill="#b848b0"/>
<line x1="1680" y1="552" x2="1680" y2="560" stroke="#b848b0" stroke-width="1.4"/>
<circle cx="1680" cy="560" r="3.2" fill="#b848b0"/>
<line x1="1869" y1="552" x2="1869" y2="561" stroke="#b848b0" stroke-width="1.4"/>
<circle cx="1869" cy="561" r="3.2" fill="#b848b0"/>
<polyline points="104.5,545 106,560 107.5,718 108.3,575 109.3,623.7 110.5,552 111.5,580 112.5,560 113.5,566 114.5,586.6 115.5,552 116.5,572 117.5,548 118.5,566 119.4,686.8 119.8,618.3 120.5,549 121.2,552 122.4,566 123,546" fill="none" stroke="#b848b0" stroke-width="1.4"/>
<circle cx="104.5" cy="545" r="3.2" fill="#b848b0"/>
<circle cx="106" cy="560" r="3.2" fill="#b848b0"/>
<circle cx="107.5" cy="718" r="3.2" fill="#b848b0"/>
<circle cx="108.3" cy="575" r="3.2" fill="#b848b0"/>
<circle cx="109.3" cy="623.7" r="3.2" fill="#b848b0"/>
<circle cx="110.5" cy="552" r="3.2" fill="#b848b0"/>
<circle cx="111.5" cy="580" r="3.2" fill="#b848b0"/>
<circle cx="112.5" cy="560" r="3.2" fill="#b848b0"/>
<circle cx="113.5" cy="566" r="3.2" fill="#b848b0"/>
<circle cx="114.5" cy="586.6" r="3.2" fill="#b848b0"/>
<circle cx="115.5" cy="552" r="3.2" fill="#b848b0"/>
<circle cx="116.5" cy="572" r="3.2" fill="#b848b0"/>
<circle cx="117.5" cy="548" r="3.2" fill="#b848b0"/>
<circle cx="118.5" cy="566" r="3.2" fill="#b848b0"/>
<circle cx="119.4" cy="686.8" r="3.2" fill="#b848b0"/>
<circle cx="119.8" cy="618.3" r="3.2" fill="#b848b0"/>
<circle cx="120.5" cy="549" r="3.2" fill="#b848b0"/>
<circle cx="121.2" cy="552" r="3.2" fill="#b848b0"/>
<circle cx="122.4" cy="566" r="3.2" fill="#b848b0"/>
<circle cx="123" cy="546" r="3.2" fill="#b848b0"/>
<rect x="105" y="545" width="17" height="24" fill="#b848b0" opacity="0.92"/>
<rect x="106" y="565" width="7" height="22" fill="#b848b0" opacity="0.85"/>
<line x1="1342.4" y1="865" x2="1342.4" y2="777" stroke="#4b4bea" stroke-width="1.8"/>
<line x1="1347.4" y1="865" x2="1347.4" y2="777" stroke="#4b4bea" stroke-width="1.8"/>
<line x1="1367.5" y1="865" x2="1367.5" y2="777" stroke="#4b4bea" stroke-width="1.8"/>
<line x1="1362.8" y1="865" x2="1362.8" y2="777" stroke="#ed7d31" stroke-width="2"/>
<circle cx="1362.8" cy="776.6" r="3.5" fill="#ed7d31"/>
<line x1="1401" y1="865" x2="1401" y2="777" stroke="#ed7d31" stroke-width="2"/>
<circle cx="1401" cy="776.6" r="3.5" fill="#ed7d31"/>
<line x1="1401" y1="855" x2="1401" y2="754" stroke="#62b267" stroke-width="1.4"/>
<line x1="1401.5" y1="865" x2="1401.5" y2="845" stroke="#5b8ff9" stroke-width="2"/>
<line x1="107.8" y1="865" x2="107.8" y2="600.5" stroke="#4b4bea" stroke-width="2"/>
<line x1="120.5" y1="865" x2="120.5" y2="777" stroke="#4b4bea" stroke-width="2"/>
<line x1="109" y1="865" x2="109" y2="777" stroke="#ed7d31" stroke-width="2"/>
<line x1="112" y1="865" x2="112" y2="777" stroke="#ed7d31" stroke-width="2"/>
<line x1="116" y1="865" x2="116" y2="777" stroke="#ed7d31" stroke-width="2"/>
<line x1="119" y1="865" x2="119" y2="777" stroke="#ed7d31" stroke-width="2"/>
<line x1="109.2" y1="865" x2="109.2" y2="757" stroke="#62b267" stroke-width="1.4"/>
<line x1="120.2" y1="865" x2="120.2" y2="744" stroke="#62b267" stroke-width="1.4"/>
<rect x="105" y="830" width="3" height="35" fill="#5b8ff9"/>
<rect x="111" y="840" width="2" height="25" fill="#5b8ff9"/>
<rect x="117" y="845" width="3" height="20" fill="#5b8ff9"/>
<circle cx="120.4" cy="777" r="8.5" fill="#d9413c" opacity="0.25"/>
<circle cx="110" cy="776.5" r="6" fill="#d9413c" opacity="0.15"/>
<polyline points="105,777 108,778 111,776.5 114,777.5 117,776.5 120.5,777 123,777" fill="none" stroke="#d9413c" stroke-width="2.2"/>
<circle cx="105.5" cy="777.5" r="3.4" fill="#d9413c"/>
<circle cx="107.5" cy="778.5" r="3.4" fill="#d9413c"/>
<circle cx="109.5" cy="777.5" r="3.4" fill="#d9413c"/>
<circle cx="111.5" cy="776.5" r="3.4" fill="#d9413c"/>
<circle cx="113.5" cy="777.5" r="3.4" fill="#d9413c"/>
<circle cx="116" cy="776.8" r="3.4" fill="#d9413c"/>
<circle cx="118.5" cy="777" r="3.4" fill="#d9413c"/>
<circle cx="121" cy="777" r="3.4" fill="#d9413c"/>
<circle cx="123" cy="777" r="3.4" fill="#d9413c"/>
<rect x="135" y="911" width="1731" height="20" fill="#57adf0"/>
<rect x="135" y="911" width="1731" height="1.2" fill="#5d9fdc"/>
<rect x="135" y="912.2" width="1731" height="2.5" fill="#7cc2f8"/>
<rect x="135" y="930" width="1731" height="1.2" fill="#5d9fdc"/>
<rect x="104.6" y="907.2" width="30.4" height="27.6" rx="1.8" fill="#efeff0" stroke="#aaa8b0" stroke-width="1.3"/>
<rect x="125" y="909" width="3" height="24" fill="#dcdce2"/>
<rect x="128" y="909" width="4.8" height="24" fill="#c6c4ca"/>
<rect x="114" y="915" width="2.5" height="11.8" rx="0.8" fill="#6e7c92"/>
<rect x="118.5" y="915" width="2.5" height="11.8" rx="0.8" fill="#6e7c92"/>
<rect x="123" y="915" width="2.5" height="11.8" rx="0.8" fill="#6e7c92"/>
<rect x="1865.8999999999999" y="907.2" width="30.4" height="27.6" rx="1.8" fill="#efeff0" stroke="#aaa8b0" stroke-width="1.3"/>
<rect x="1886.3" y="909" width="3" height="24" fill="#dcdce2"/>
<rect x="1889.3" y="909" width="4.8" height="24" fill="#c6c4ca"/>
<rect x="1875.3" y="915" width="2.5" height="11.8" rx="0.8" fill="#6e7c92"/>
<rect x="1879.8" y="915" width="2.5" height="11.8" rx="0.8" fill="#6e7c92"/>
<rect x="1884.3" y="915" width="2.5" height="11.8" rx="0.8" fill="#6e7c92"/>
<rect x="481" y="955" width="23.5" height="6" fill="#b848b0"/>
<circle cx="492.8" cy="958" r="4.4" fill="#b848b0"/><circle cx="492.8" cy="958" r="2.1" fill="#fff"/>
<rect x="579" y="955" width="23.5" height="6" fill="#62b267"/>
<rect x="713" y="955" width="23.5" height="6" fill="#5aada8"/>
<rect x="883" y="955" width="23.5" height="6" fill="#4b4bea"/>
<rect x="1034" y="955" width="23.5" height="6" fill="#ed7d31"/>
<circle cx="1045.8" cy="958" r="4.4" fill="#ed7d31"/><circle cx="1045.8" cy="958" r="2.1" fill="#fff"/>
<rect x="1139" y="955" width="23.5" height="6" fill="#d9413c"/>
<circle cx="1150.8" cy="958" r="4.4" fill="#d9413c"/><circle cx="1150.8" cy="958" r="2.1" fill="#fff"/>
<rect x="1271" y="955" width="23.5" height="6" fill="#5b8ff9"/>
<rect x="1396" y="955" width="23.5" height="6" fill="#5fcbe3"/>
<text x="519.57" y="962" font-size="18" fill="#2e2e2e" font-weight="normal" textLength="29.14" lengthAdjust="spacingAndGlyphs" >FPS</text>
<text x="617.60" y="962" font-size="18" fill="#2e2e2e" font-weight="normal" textLength="66.48" lengthAdjust="spacingAndGlyphs" >Smooth</text>
<text x="751.44" y="962" font-size="18" fill="#2e2e2e" font-weight="normal" textLength="101.92" lengthAdjust="spacingAndGlyphs" >1%Low(FPS)</text>
<text x="921.60" y="962" font-size="18" fill="#2e2e2e" font-weight="normal" textLength="81.02" lengthAdjust="spacingAndGlyphs" >SmallJank</text>
<text x="1072.40" y="962" font-size="18" fill="#2e2e2e" font-weight="normal" textLength="35.27" lengthAdjust="spacingAndGlyphs" >Jank</text>
<text x="1177.02" y="962" font-size="18" fill="#2e2e2e" font-weight="normal" textLength="63.00" lengthAdjust="spacingAndGlyphs" >BigJank</text>
<text x="1310.00" y="962" font-size="18" fill="#2e2e2e" font-weight="normal" textLength="55.59" lengthAdjust="spacingAndGlyphs" >Stutter</text>
<text x="1434.57" y="962" font-size="18" fill="#2e2e2e" font-weight="normal" textLength="91.05" lengthAdjust="spacingAndGlyphs" >InterFrame</text>
<text x="1783.00" y="961.5" font-size="18" fill="#6577f0" font-weight="300" textLength="52.00" lengthAdjust="spacingAndGlyphs" >全隐藏</text>
</svg>
</body></html>
